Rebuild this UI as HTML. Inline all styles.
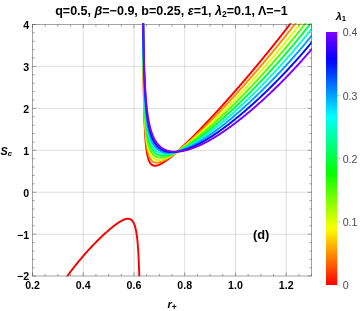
<!DOCTYPE html>
<html><head><meta charset="utf-8"><title>plot</title>
<style>
html,body{margin:0;padding:0;background:#fff;}
body{width:363px;height:311px;overflow:hidden;font-family:"Liberation Sans",sans-serif;}
svg{display:block;will-change:transform;opacity:0.999;}
text{font-family:"Liberation Sans",sans-serif;}
</style></head><body>
<svg width="363" height="311" viewBox="0 0 363 311">
<defs><clipPath id="cp"><rect x="32" y="23.2" width="279.9" height="253"/></clipPath><linearGradient id="cb" x1="0" y1="0" x2="0" y2="1"><stop offset="0.0000" stop-color="#8000ff"/><stop offset="0.0208" stop-color="#6800ff"/><stop offset="0.0417" stop-color="#5000ff"/><stop offset="0.0625" stop-color="#3800ff"/><stop offset="0.0833" stop-color="#2000ff"/><stop offset="0.1042" stop-color="#0800ff"/><stop offset="0.1250" stop-color="#0010ff"/><stop offset="0.1458" stop-color="#0028ff"/><stop offset="0.1667" stop-color="#0040ff"/><stop offset="0.1875" stop-color="#0058ff"/><stop offset="0.2083" stop-color="#0070ff"/><stop offset="0.2292" stop-color="#0087ff"/><stop offset="0.2500" stop-color="#009fff"/><stop offset="0.2708" stop-color="#00b7ff"/><stop offset="0.2917" stop-color="#00cfff"/><stop offset="0.3125" stop-color="#00e7ff"/><stop offset="0.3333" stop-color="#00ffff"/><stop offset="0.3542" stop-color="#00ffe7"/><stop offset="0.3750" stop-color="#00ffcf"/><stop offset="0.3958" stop-color="#00ffb7"/><stop offset="0.4167" stop-color="#00ff9f"/><stop offset="0.4375" stop-color="#00ff87"/><stop offset="0.4583" stop-color="#00ff70"/><stop offset="0.4792" stop-color="#00ff58"/><stop offset="0.5000" stop-color="#00ff40"/><stop offset="0.5208" stop-color="#00ff28"/><stop offset="0.5417" stop-color="#00ff10"/><stop offset="0.5625" stop-color="#08ff00"/><stop offset="0.5833" stop-color="#20ff00"/><stop offset="0.6042" stop-color="#38ff00"/><stop offset="0.6250" stop-color="#50ff00"/><stop offset="0.6458" stop-color="#68ff00"/><stop offset="0.6667" stop-color="#80ff00"/><stop offset="0.6875" stop-color="#97ff00"/><stop offset="0.7083" stop-color="#afff00"/><stop offset="0.7292" stop-color="#c7ff00"/><stop offset="0.7500" stop-color="#dfff00"/><stop offset="0.7708" stop-color="#f7ff00"/><stop offset="0.7917" stop-color="#ffef00"/><stop offset="0.8125" stop-color="#ffd700"/><stop offset="0.8333" stop-color="#ffbf00"/><stop offset="0.8542" stop-color="#ffa700"/><stop offset="0.8750" stop-color="#ff8f00"/><stop offset="0.8958" stop-color="#ff7800"/><stop offset="0.9167" stop-color="#ff6000"/><stop offset="0.9375" stop-color="#ff4800"/><stop offset="0.9583" stop-color="#ff3000"/><stop offset="0.9792" stop-color="#ff1800"/><stop offset="1.0000" stop-color="#ff0000"/></linearGradient></defs>
<rect width="363" height="311" fill="#fff"/>
<g stroke="#000" stroke-opacity="0.135" stroke-width="1" fill="none"><line x1="83.24" x2="83.24" y1="24.50" y2="276.00"/><line x1="133.98" x2="133.98" y1="24.50" y2="276.00"/><line x1="184.72" x2="184.72" y1="24.50" y2="276.00"/><line x1="235.46" x2="235.46" y1="24.50" y2="276.00"/><line x1="286.20" x2="286.20" y1="24.50" y2="276.00"/><line x1="32.50" x2="311.50" y1="234.20" y2="234.20"/><line x1="32.50" x2="311.50" y1="192.25" y2="192.25"/><line x1="32.50" x2="311.50" y1="150.30" y2="150.30"/><line x1="32.50" x2="311.50" y1="108.35" y2="108.35"/><line x1="32.50" x2="311.50" y1="66.40" y2="66.40"/></g>
<g fill="none" stroke-width="1.95" stroke-linejoin="round" stroke-linecap="round" clip-path="url(#cp)">
<path d="M139.34 278.96 L139.32 278.21 L139.30 277.47 L139.28 276.74 L139.26 276.02 L139.24 275.31 L139.22 274.60 L139.20 273.77 L139.18 272.95 L139.15 272.14 L139.13 271.34 L139.10 270.55 L139.08 269.78 L139.05 269.01 L139.02 268.26 L139.00 267.52 L138.97 266.79 L138.95 266.07 L138.92 265.36 L138.89 264.66 L138.86 263.85 L138.83 263.06 L138.80 262.28 L138.77 261.52 L138.74 260.77 L138.70 260.03 L138.67 259.30 L138.64 258.58 L138.61 257.88 L138.57 257.09 L138.53 256.31 L138.49 255.55 L138.45 254.81 L138.41 254.07 L138.37 253.35 L138.33 252.64 L138.28 251.86 L138.24 251.10 L138.19 250.35 L138.14 249.62 L138.10 248.90 L138.05 248.20 L137.99 247.44 L137.94 246.69 L137.89 245.96 L137.83 245.25 L137.77 244.48 L137.70 243.73 L137.64 243.00 L137.58 242.29 L137.51 241.53 L137.44 240.80 L137.36 240.08 L137.29 239.39 L137.21 238.65 L137.13 237.94 L137.04 237.19 L136.95 236.47 L136.86 235.77 L136.76 235.05 L136.66 234.35 L136.55 233.63 L136.44 232.93 L136.32 232.22 L136.19 231.50 L136.06 230.80 L135.92 230.10 L135.77 229.39 L135.61 228.68 L135.44 227.98 L135.25 227.28 L135.06 226.59 L134.85 225.91 L134.62 225.23 L134.38 224.56 L134.12 223.91 L133.82 223.26 L133.51 222.63 L133.15 222.01 L132.75 221.41 L132.31 220.85 L131.82 220.33 L131.29 219.87 L130.69 219.48 L130.05 219.17 L129.38 218.95 L128.69 218.83 L127.99 218.78 L127.29 218.81 L126.59 218.90 L125.90 219.04 L125.22 219.23 L124.56 219.45 L123.89 219.70 L123.24 219.98 L122.60 220.27 L121.97 220.59 L121.34 220.93 L120.72 221.28 L120.10 221.64 L119.49 222.01 L118.88 222.40 L118.29 222.78 L117.70 223.18 L117.11 223.59 L116.52 224.00 L115.95 224.42 L115.36 224.85 L114.79 225.27 L114.23 225.70 L113.67 226.14 L113.10 226.59 L112.54 227.03 L111.97 227.49 L111.42 227.93 L110.86 228.39 L110.32 228.84 L109.78 229.30 L109.23 229.77 L108.69 230.23 L108.15 230.70 L107.60 231.18 L107.08 231.64 L106.54 232.12 L106.01 232.60 L105.46 233.09 L104.94 233.56 L104.41 234.05 L103.88 234.54 L103.34 235.04 L102.83 235.52 L102.30 236.01 L101.78 236.51 L101.25 237.01 L100.74 237.50 L100.23 237.99 L99.72 238.49 L99.20 238.99 L98.68 239.51 L98.15 240.03 L97.65 240.53 L97.14 241.03 L96.63 241.54 L96.12 242.06 L95.60 242.59 L95.11 243.09 L94.61 243.60 L94.11 244.11 L93.61 244.63 L93.11 245.16 L92.60 245.69 L92.09 246.23 L91.60 246.74 L91.12 247.26 L90.63 247.78 L90.13 248.31 L89.64 248.84 L89.14 249.39 L88.64 249.93 L88.16 250.45 L87.69 250.97 L87.21 251.50 L86.73 252.04 L86.25 252.58 L85.76 253.12 L85.27 253.68 L84.78 254.23 L84.29 254.80 L83.83 255.33 L83.36 255.86 L82.90 256.40 L82.43 256.95 L81.95 257.50 L81.48 258.06 L81.00 258.62 L80.52 259.19 L80.04 259.77 L79.56 260.35 L79.11 260.89 L78.66 261.44 L78.20 261.99 L77.75 262.55 L77.29 263.11 L76.83 263.68 L76.37 264.25 L75.90 264.83 L75.44 265.42 L74.97 266.01 L74.49 266.61 L74.06 267.16 L73.63 267.72 L73.19 268.29 L72.75 268.86 L72.31 269.43 L71.86 270.01 L71.42 270.60 L70.97 271.19 L70.52 271.78 L70.07 272.38 L69.62 272.99 L69.16 273.61 L68.71 274.23 L68.29 274.79 L67.87 275.37 L67.45 275.95 L67.03 276.53 L66.61 277.12 L66.18 277.71 L65.75 278.31 L65.33 278.92 L65.28 278.98" stroke="#ff0000"/>
<path d="M143.11 21.83 L143.12 22.72 L143.12 23.61 L143.13 24.48 L143.13 25.36 L143.14 26.22 L143.14 27.08 L143.15 27.94 L143.15 28.79 L143.16 29.63 L143.16 30.47 L143.17 31.30 L143.17 32.12 L143.18 32.94 L143.19 33.76 L143.19 34.57 L143.20 35.37 L143.20 36.17 L143.21 36.96 L143.21 37.75 L143.22 38.53 L143.22 39.31 L143.23 40.08 L143.23 40.84 L143.24 41.61 L143.24 42.36 L143.25 43.11 L143.26 43.86 L143.26 44.60 L143.27 45.33 L143.27 46.06 L143.28 46.79 L143.28 47.51 L143.29 48.23 L143.29 48.94 L143.30 49.65 L143.31 50.35 L143.31 51.39 L143.32 52.43 L143.33 53.45 L143.34 54.47 L143.35 55.47 L143.36 56.46 L143.37 57.45 L143.38 58.42 L143.38 59.39 L143.39 60.34 L143.40 61.29 L143.41 62.23 L143.42 63.15 L143.43 64.07 L143.44 64.98 L143.45 65.89 L143.46 66.78 L143.47 67.66 L143.48 68.54 L143.49 69.41 L143.50 70.27 L143.51 71.12 L143.51 71.96 L143.52 72.79 L143.53 73.62 L143.54 74.44 L143.55 75.25 L143.56 76.06 L143.57 76.85 L143.58 77.64 L143.59 78.42 L143.60 79.20 L143.61 79.96 L143.62 80.72 L143.63 81.47 L143.64 82.22 L143.65 82.96 L143.67 83.69 L143.68 84.41 L143.69 85.13 L143.70 85.84 L143.71 86.55 L143.72 87.48 L143.74 88.40 L143.75 89.31 L143.76 90.20 L143.78 91.09 L143.79 91.96 L143.81 92.83 L143.82 93.68 L143.84 94.52 L143.85 95.36 L143.87 96.18 L143.88 97.00 L143.90 97.80 L143.92 98.59 L143.93 99.38 L143.95 100.16 L143.96 100.92 L143.98 101.68 L143.99 102.43 L144.01 103.17 L144.03 103.90 L144.04 104.62 L144.06 105.34 L144.08 106.04 L144.10 106.91 L144.12 107.77 L144.14 108.62 L144.16 109.45 L144.18 110.27 L144.20 111.08 L144.22 111.88 L144.25 112.67 L144.27 113.44 L144.29 114.21 L144.31 114.96 L144.34 115.70 L144.36 116.44 L144.38 117.16 L144.40 117.87 L144.43 118.57 L144.46 119.40 L144.48 120.22 L144.51 121.02 L144.54 121.81 L144.57 122.58 L144.60 123.35 L144.63 124.10 L144.66 124.83 L144.69 125.56 L144.72 126.27 L144.75 126.98 L144.79 127.78 L144.82 128.57 L144.86 129.34 L144.90 130.10 L144.94 130.85 L144.97 131.58 L145.01 132.30 L145.05 133.00 L145.10 133.79 L145.14 134.56 L145.19 135.31 L145.23 136.05 L145.28 136.78 L145.33 137.48 L145.38 138.26 L145.43 139.02 L145.49 139.76 L145.54 140.49 L145.60 141.19 L145.66 141.96 L145.73 142.71 L145.79 143.43 L145.86 144.14 L145.93 144.90 L146.01 145.63 L146.08 146.35 L146.17 147.10 L146.25 147.83 L146.34 148.54 L146.43 149.29 L146.53 150.00 L146.62 150.70 L146.73 151.42 L146.84 152.11 L146.96 152.83 L147.09 153.56 L147.22 154.26 L147.36 154.97 L147.51 155.69 L147.67 156.38 L147.84 157.06 L148.02 157.75 L148.21 158.42 L148.43 159.12 L148.66 159.80 L148.91 160.45 L149.19 161.11 L149.50 161.75 L149.83 162.37 L150.21 162.98 L150.63 163.55 L151.10 164.08 L151.63 164.56 L152.20 164.96 L152.82 165.29 L153.48 165.52 L154.17 165.66 L154.88 165.72 L155.59 165.69 L156.30 165.60 L156.99 165.46 L157.67 165.27 L158.34 165.05 L159.01 164.79 L159.65 164.51 L160.29 164.21 L160.93 163.89 L161.56 163.55 L162.19 163.19 L162.80 162.83 L163.41 162.45 L164.00 162.07 L164.61 161.67 L165.20 161.27 L165.78 160.87 L166.37 160.45 L166.95 160.03 L167.53 159.60 L168.10 159.17 L168.68 158.73 L169.24 158.30 L169.81 157.85 L170.35 157.42 L170.91 156.97 L171.47 156.51 L172.02 156.07 L172.57 155.61 L173.12 155.14 L173.68 154.67 L174.22 154.21 L174.77 153.74 L175.32 153.26 L175.85 152.80 L176.39 152.33 L176.93 151.85 L177.47 151.37 L178.02 150.87 L178.55 150.40 L179.08 149.92 L179.62 149.43 L180.16 148.94 L180.70 148.44 L181.22 147.96 L181.75 147.47 L182.27 146.98 L182.81 146.48 L183.34 145.98 L183.89 145.47 L184.40 144.98 L184.91 144.49 L185.43 144.00 L185.96 143.50 L186.49 142.99 L187.02 142.47 L187.56 141.95 L188.06 141.46 L188.57 140.97 L189.08 140.47 L189.60 139.96 L190.12 139.45 L190.64 138.94 L191.17 138.42 L191.70 137.89 L192.24 137.36 L192.74 136.86 L193.24 136.36 L193.75 135.85 L194.26 135.34 L194.77 134.82 L195.28 134.30 L195.80 133.77 L196.33 133.24 L196.85 132.71 L197.38 132.17 L197.88 131.67 L198.37 131.16 L198.87 130.65 L199.37 130.14 L199.87 129.62 L200.38 129.09 L200.89 128.57 L201.40 128.04 L201.92 127.50 L202.44 126.96 L202.96 126.42 L203.48 125.87 L204.01 125.32 L204.49 124.81 L204.98 124.30 L205.47 123.78 L205.97 123.26 L206.46 122.74 L206.96 122.21 L207.46 121.68 L207.97 121.15 L208.47 120.61 L208.98 120.07 L209.49 119.52 L210.01 118.97 L210.52 118.42 L211.04 117.86 L211.56 117.30 L212.09 116.74 L212.57 116.22 L213.05 115.70 L213.53 115.18 L214.02 114.65 L214.50 114.13 L214.99 113.59 L215.49 113.06 L215.98 112.52 L216.48 111.98 L216.97 111.44 L217.48 110.89 L217.98 110.34 L218.48 109.78 L218.99 109.23 L219.50 108.67 L220.01 108.10 L220.53 107.54 L221.04 106.97 L221.56 106.39 L222.08 105.82 L222.55 105.29 L223.02 104.77 L223.50 104.24 L223.98 103.71 L224.45 103.18 L224.93 102.64 L225.41 102.11 L225.90 101.56 L226.38 101.02 L226.87 100.47 L227.36 99.93 L227.85 99.37 L228.34 98.82 L228.84 98.26 L229.33 97.70 L229.83 97.14 L230.33 96.57 L230.84 96.00 L231.34 95.43 L231.85 94.86 L232.35 94.28 L232.86 93.70 L233.38 93.12 L233.89 92.53 L234.40 91.94 L234.92 91.35 L235.38 90.82 L235.85 90.29 L236.31 89.76 L236.78 89.22 L237.24 88.68 L237.71 88.14 L238.18 87.60 L238.66 87.06 L239.13 86.51 L239.61 85.96 L240.08 85.41 L240.56 84.85 L241.04 84.30 L241.52 83.74 L242.01 83.18 L242.49 82.61 L242.98 82.05 L243.46 81.48 L243.95 80.91 L244.44 80.33 L244.94 79.76 L245.43 79.18 L245.93 78.60 L246.42 78.01 L246.92 77.43 L247.42 76.84 L247.92 76.25 L248.43 75.65 L248.93 75.06 L249.44 74.46 L249.95 73.86 L250.46 73.26 L250.97 72.65 L251.48 72.04 L251.99 71.43 L252.45 70.89 L252.90 70.35 L253.35 69.81 L253.81 69.27 L254.26 68.73 L254.72 68.18 L255.18 67.63 L255.64 67.08 L256.10 66.53 L256.57 65.97 L257.03 65.41 L257.49 64.85 L257.96 64.29 L258.43 63.73 L258.90 63.16 L259.37 62.60 L259.84 62.03 L260.31 61.46 L260.79 60.88 L261.26 60.31 L261.74 59.73 L262.21 59.15 L262.69 58.56 L263.17 57.98 L263.66 57.39 L264.14 56.81 L264.62 56.21 L265.11 55.62 L265.59 55.03 L266.08 54.43 L266.57 53.83 L267.06 53.23 L267.55 52.62 L268.05 52.02 L268.54 51.41 L269.04 50.80 L269.53 50.18 L270.03 49.57 L270.53 48.95 L271.03 48.33 L271.53 47.71 L272.04 47.08 L272.54 46.45 L273.05 45.82 L273.55 45.19 L274.06 44.56 L274.57 43.92 L275.01 43.37 L275.45 42.82 L275.89 42.27 L276.33 41.72 L276.77 41.16 L277.21 40.61 L277.66 40.05 L278.10 39.49 L278.55 38.92 L279.00 38.36 L279.44 37.79 L279.89 37.22 L280.34 36.65 L280.79 36.08 L281.24 35.51 L281.70 34.93 L282.15 34.36 L282.60 33.78 L283.06 33.19 L283.52 32.61 L283.97 32.03 L284.43 31.44 L284.89 30.85 L285.35 30.26 L285.81 29.66 L286.27 29.07 L286.74 28.47 L287.20 27.87 L287.67 27.27 L288.13 26.66 L288.60 26.06 L289.07 25.45 L289.54 24.84 L290.01 24.23 L290.48 23.61 L290.95 23.00 L291.43 22.38 L291.90 21.76 L292.06 21.55" stroke="#ff0000"/>
<path d="M143.09 21.61 L143.10 22.45 L143.11 23.28 L143.11 24.11 L143.12 24.93 L143.12 25.75 L143.13 26.56 L143.13 27.37 L143.14 28.17 L143.14 28.97 L143.15 29.76 L143.15 30.54 L143.16 31.32 L143.16 32.10 L143.17 32.87 L143.18 33.63 L143.18 34.39 L143.19 35.15 L143.19 35.89 L143.20 36.64 L143.20 37.38 L143.21 38.11 L143.22 38.84 L143.22 39.57 L143.23 40.29 L143.23 41.00 L143.24 41.71 L143.24 42.42 L143.25 43.12 L143.26 44.17 L143.27 45.20 L143.28 46.22 L143.29 47.24 L143.29 48.24 L143.30 49.24 L143.31 50.22 L143.32 51.19 L143.33 52.16 L143.34 53.12 L143.35 54.06 L143.36 55.00 L143.37 55.93 L143.38 56.85 L143.39 57.76 L143.40 58.67 L143.41 59.56 L143.42 60.45 L143.43 61.33 L143.43 62.20 L143.44 63.06 L143.45 63.91 L143.46 64.76 L143.47 65.59 L143.48 66.42 L143.49 67.24 L143.50 68.06 L143.51 68.87 L143.52 69.66 L143.53 70.46 L143.55 71.24 L143.56 72.02 L143.57 72.79 L143.58 73.55 L143.59 74.31 L143.60 75.06 L143.61 75.80 L143.62 76.54 L143.63 77.27 L143.64 77.99 L143.65 78.70 L143.66 79.41 L143.67 80.12 L143.69 81.05 L143.70 81.96 L143.72 82.87 L143.73 83.76 L143.75 84.65 L143.76 85.52 L143.78 86.38 L143.79 87.24 L143.81 88.08 L143.82 88.92 L143.84 89.74 L143.85 90.55 L143.87 91.36 L143.89 92.15 L143.90 92.94 L143.92 93.72 L143.93 94.48 L143.95 95.24 L143.97 95.99 L143.98 96.74 L144.00 97.47 L144.02 98.20 L144.03 98.91 L144.05 99.62 L144.07 100.32 L144.09 101.19 L144.11 102.04 L144.13 102.88 L144.15 103.71 L144.18 104.53 L144.20 105.33 L144.22 106.13 L144.24 106.91 L144.27 107.68 L144.29 108.45 L144.31 109.20 L144.34 109.94 L144.36 110.67 L144.38 111.39 L144.41 112.10 L144.43 112.81 L144.46 113.64 L144.49 114.45 L144.52 115.25 L144.55 116.04 L144.58 116.82 L144.61 117.59 L144.64 118.34 L144.67 119.08 L144.70 119.81 L144.73 120.53 L144.76 121.23 L144.80 122.04 L144.84 122.84 L144.88 123.62 L144.91 124.38 L144.95 125.13 L144.99 125.87 L145.03 126.60 L145.07 127.31 L145.11 128.01 L145.16 128.79 L145.20 129.56 L145.25 130.31 L145.30 131.05 L145.35 131.77 L145.40 132.48 L145.45 133.25 L145.51 134.01 L145.57 134.76 L145.62 135.48 L145.68 136.19 L145.75 136.96 L145.81 137.72 L145.88 138.45 L145.95 139.16 L146.02 139.93 L146.10 140.67 L146.18 141.40 L146.26 142.10 L146.34 142.85 L146.43 143.57 L146.52 144.27 L146.62 145.01 L146.72 145.73 L146.83 146.47 L146.94 147.19 L147.06 147.89 L147.18 148.60 L147.30 149.29 L147.44 150.00 L147.59 150.72 L147.74 151.41 L147.90 152.11 L148.08 152.82 L148.26 153.52 L148.47 154.23 L148.68 154.92 L148.91 155.61 L149.16 156.28 L149.42 156.93 L149.72 157.58 L150.04 158.23 L150.38 158.84 L150.76 159.43 L151.17 160.00 L151.64 160.54 L152.15 161.04 L152.70 161.49 L153.30 161.87 L153.94 162.18 L154.61 162.41 L155.30 162.57 L155.99 162.65 L156.70 162.67 L157.40 162.63 L158.10 162.55 L158.80 162.42 L159.50 162.25 L160.17 162.05 L160.85 161.83 L161.52 161.58 L162.18 161.31 L162.84 161.02 L163.49 160.71 L164.14 160.39 L164.77 160.07 L165.39 159.73 L166.02 159.38 L166.64 159.02 L167.24 158.66 L167.85 158.28 L168.45 157.91 L169.06 157.52 L169.65 157.13 L170.25 156.73 L170.83 156.33 L171.42 155.92 L172.02 155.50 L172.59 155.09 L173.18 154.67 L173.77 154.24 L174.34 153.81 L174.92 153.38 L175.50 152.94 L176.06 152.51 L176.63 152.07 L177.20 151.62 L177.78 151.16 L178.33 150.72 L178.89 150.28 L179.46 149.82 L180.03 149.35 L180.58 148.91 L181.13 148.45 L181.68 147.99 L182.24 147.52 L182.81 147.05 L183.34 146.59 L183.89 146.13 L184.43 145.66 L184.98 145.19 L185.54 144.71 L186.10 144.22 L186.63 143.76 L187.16 143.29 L187.70 142.82 L188.24 142.33 L188.79 141.85 L189.34 141.36 L189.90 140.86 L190.42 140.39 L190.94 139.91 L191.47 139.43 L192.01 138.94 L192.54 138.45 L193.08 137.95 L193.63 137.45 L194.18 136.94 L194.73 136.43 L195.25 135.95 L195.76 135.46 L196.29 134.97 L196.81 134.48 L197.34 133.98 L197.88 133.47 L198.41 132.96 L198.95 132.45 L199.50 131.93 L200.04 131.41 L200.55 130.92 L201.06 130.43 L201.57 129.93 L202.09 129.43 L202.61 128.93 L203.13 128.42 L203.66 127.90 L204.18 127.39 L204.72 126.87 L205.25 126.34 L205.79 125.81 L206.33 125.28 L206.83 124.78 L207.33 124.28 L207.83 123.78 L208.33 123.28 L208.84 122.77 L209.35 122.26 L209.87 121.74 L210.38 121.22 L210.90 120.70 L211.42 120.17 L211.94 119.64 L212.47 119.11 L213.00 118.57 L213.53 118.03 L214.07 117.48 L214.60 116.93 L215.09 116.43 L215.58 115.92 L216.08 115.41 L216.58 114.90 L217.07 114.38 L217.58 113.87 L218.08 113.34 L218.58 112.82 L219.09 112.29 L219.60 111.76 L220.11 111.22 L220.63 110.68 L221.15 110.14 L221.66 109.59 L222.19 109.05 L222.71 108.49 L223.24 107.94 L223.76 107.38 L224.29 106.82 L224.83 106.25 L225.31 105.74 L225.79 105.22 L226.28 104.71 L226.76 104.19 L227.25 103.66 L227.74 103.14 L228.23 102.61 L228.73 102.08 L229.22 101.54 L229.72 101.01 L230.22 100.47 L230.72 99.92 L231.23 99.38 L231.73 98.83 L232.24 98.28 L232.75 97.72 L233.26 97.17 L233.77 96.61 L234.29 96.04 L234.81 95.48 L235.33 94.91 L235.85 94.34 L236.37 93.76 L236.89 93.18 L237.42 92.60 L237.95 92.02 L238.42 91.50 L238.89 90.97 L239.37 90.45 L239.84 89.92 L240.32 89.39 L240.80 88.85 L241.28 88.32 L241.76 87.78 L242.25 87.24 L242.73 86.69 L243.22 86.15 L243.71 85.60 L244.20 85.05 L244.69 84.50 L245.18 83.94 L245.68 83.38 L246.17 82.82 L246.67 82.26 L247.17 81.70 L247.67 81.13 L248.17 80.56 L248.68 79.98 L249.18 79.41 L249.69 78.83 L250.20 78.25 L250.71 77.67 L251.22 77.08 L251.74 76.49 L252.25 75.90 L252.77 75.31 L253.29 74.71 L253.81 74.11 L254.33 73.51 L254.85 72.91 L255.31 72.37 L255.77 71.84 L256.23 71.31 L256.70 70.77 L257.16 70.23 L257.63 69.69 L258.09 69.15 L258.56 68.60 L259.03 68.05 L259.50 67.50 L259.97 66.95 L260.45 66.40 L260.92 65.84 L261.40 65.28 L261.87 64.72 L262.35 64.16 L262.83 63.60 L263.31 63.03 L263.79 62.46 L264.28 61.89 L264.76 61.32 L265.25 60.74 L265.73 60.16 L266.22 59.58 L266.71 59.00 L267.20 58.42 L267.69 57.83 L268.19 57.24 L268.68 56.65 L269.18 56.06 L269.68 55.46 L270.17 54.86 L270.67 54.26 L271.17 53.66 L271.68 53.05 L272.18 52.44 L272.69 51.83 L273.19 51.22 L273.70 50.61 L274.21 49.99 L274.72 49.37 L275.23 48.75 L275.74 48.12 L276.26 47.50 L276.77 46.87 L277.29 46.23 L277.73 45.69 L278.18 45.14 L278.62 44.60 L279.07 44.05 L279.52 43.50 L279.97 42.94 L280.42 42.39 L280.87 41.83 L281.32 41.27 L281.77 40.71 L282.23 40.15 L282.68 39.58 L283.14 39.02 L283.59 38.45 L284.05 37.88 L284.51 37.30 L284.97 36.73 L285.43 36.15 L285.89 35.57 L286.35 34.99 L286.82 34.41 L287.28 33.82 L287.75 33.24 L288.21 32.65 L288.68 32.06 L289.15 31.46 L289.62 30.87 L290.09 30.27 L290.56 29.67 L291.03 29.07 L291.50 28.46 L291.98 27.85 L292.45 27.25 L292.93 26.63 L293.41 26.02 L293.89 25.41 L294.37 24.79 L294.85 24.17 L295.33 23.54 L295.81 22.92 L296.29 22.29 L296.78 21.66 L296.86 21.56" stroke="#ff8f00"/>
<path d="M143.09 21.79 L143.09 22.58 L143.10 23.36 L143.10 24.14 L143.11 24.91 L143.11 25.68 L143.12 26.44 L143.12 27.20 L143.13 27.95 L143.14 28.70 L143.14 29.45 L143.15 30.18 L143.15 30.92 L143.16 31.65 L143.17 32.37 L143.17 33.09 L143.18 33.81 L143.18 34.52 L143.19 35.22 L143.20 35.92 L143.20 36.97 L143.21 38.00 L143.22 39.02 L143.23 40.04 L143.24 41.04 L143.25 42.04 L143.26 43.02 L143.27 44.00 L143.28 44.96 L143.29 45.92 L143.30 46.87 L143.31 47.81 L143.32 48.74 L143.33 49.66 L143.34 50.57 L143.35 51.48 L143.35 52.37 L143.36 53.26 L143.37 54.14 L143.38 55.01 L143.39 55.88 L143.40 56.73 L143.41 57.58 L143.42 58.42 L143.43 59.26 L143.45 60.08 L143.46 60.90 L143.47 61.71 L143.48 62.51 L143.49 63.31 L143.50 64.09 L143.51 64.87 L143.52 65.65 L143.53 66.42 L143.54 67.18 L143.55 67.93 L143.56 68.68 L143.57 69.42 L143.58 70.15 L143.59 70.88 L143.61 71.60 L143.62 72.31 L143.63 73.02 L143.64 73.72 L143.65 74.65 L143.67 75.56 L143.68 76.47 L143.70 77.36 L143.71 78.24 L143.73 79.12 L143.75 79.98 L143.76 80.83 L143.78 81.68 L143.79 82.51 L143.81 83.34 L143.83 84.15 L143.84 84.96 L143.86 85.75 L143.87 86.54 L143.89 87.32 L143.91 88.09 L143.92 88.85 L143.94 89.61 L143.96 90.35 L143.97 91.09 L143.99 91.81 L144.01 92.53 L144.03 93.25 L144.04 93.95 L144.07 94.82 L144.09 95.68 L144.11 96.52 L144.13 97.36 L144.16 98.18 L144.18 98.99 L144.20 99.79 L144.22 100.58 L144.25 101.36 L144.27 102.13 L144.29 102.89 L144.32 103.64 L144.34 104.38 L144.37 105.10 L144.39 105.82 L144.42 106.53 L144.44 107.23 L144.47 108.06 L144.50 108.88 L144.53 109.68 L144.56 110.47 L144.59 111.25 L144.62 112.01 L144.65 112.77 L144.69 113.51 L144.72 114.24 L144.75 114.96 L144.78 115.67 L144.82 116.48 L144.86 117.28 L144.90 118.07 L144.94 118.84 L144.98 119.59 L145.02 120.34 L145.06 121.07 L145.10 121.79 L145.14 122.50 L145.19 123.29 L145.24 124.06 L145.28 124.83 L145.33 125.57 L145.38 126.30 L145.43 127.02 L145.48 127.73 L145.54 128.50 L145.60 129.26 L145.66 130.00 L145.72 130.73 L145.78 131.44 L145.85 132.21 L145.92 132.96 L145.98 133.70 L146.06 134.42 L146.13 135.12 L146.21 135.87 L146.29 136.61 L146.37 137.32 L146.45 138.02 L146.54 138.76 L146.63 139.48 L146.73 140.17 L146.83 140.91 L146.94 141.62 L147.05 142.37 L147.17 143.09 L147.28 143.78 L147.41 144.51 L147.54 145.20 L147.69 145.92 L147.83 146.61 L147.99 147.31 L148.15 148.03 L148.33 148.72 L148.51 149.41 L148.71 150.11 L148.92 150.80 L149.15 151.50 L149.39 152.18 L149.65 152.85 L149.93 153.51 L150.23 154.16 L150.56 154.80 L150.90 155.42 L151.29 156.02 L151.69 156.60 L152.14 157.15 L152.62 157.67 L153.15 158.15 L153.72 158.58 L154.31 158.96 L154.94 159.28 L155.60 159.53 L156.27 159.73 L156.97 159.86 L157.67 159.94 L158.37 159.97 L159.08 159.95 L159.78 159.89 L160.49 159.79 L161.19 159.66 L161.89 159.49 L162.58 159.31 L163.27 159.10 L163.96 158.87 L164.63 158.62 L165.29 158.36 L165.95 158.08 L166.59 157.80 L167.24 157.50 L167.88 157.19 L168.53 156.87 L169.16 156.54 L169.78 156.21 L170.41 155.87 L171.02 155.52 L171.64 155.16 L172.26 154.79 L172.87 154.43 L173.49 154.05 L174.08 153.68 L174.68 153.29 L175.29 152.90 L175.88 152.51 L176.48 152.12 L177.08 151.71 L177.69 151.30 L178.27 150.89 L178.86 150.48 L179.46 150.06 L180.03 149.65 L180.61 149.23 L181.19 148.81 L181.78 148.37 L182.37 147.93 L182.94 147.51 L183.51 147.08 L184.09 146.64 L184.67 146.19 L185.26 145.74 L185.82 145.30 L186.38 144.86 L186.95 144.41 L187.52 143.96 L188.10 143.50 L188.68 143.03 L189.23 142.58 L189.78 142.13 L190.34 141.68 L190.91 141.21 L191.47 140.74 L192.04 140.27 L192.58 139.82 L193.12 139.36 L193.67 138.90 L194.22 138.44 L194.77 137.97 L195.32 137.49 L195.89 137.01 L196.45 136.52 L197.02 136.03 L197.55 135.57 L198.08 135.10 L198.62 134.63 L199.16 134.15 L199.71 133.67 L200.25 133.18 L200.80 132.69 L201.36 132.19 L201.92 131.69 L202.48 131.19 L203.00 130.72 L203.53 130.24 L204.05 129.76 L204.58 129.27 L205.12 128.79 L205.65 128.29 L206.19 127.79 L206.73 127.29 L207.28 126.79 L207.83 126.27 L208.38 125.76 L208.94 125.24 L209.45 124.76 L209.96 124.28 L210.48 123.79 L210.99 123.30 L211.52 122.80 L212.04 122.30 L212.57 121.80 L213.10 121.29 L213.63 120.78 L214.16 120.27 L214.70 119.75 L215.24 119.23 L215.78 118.70 L216.33 118.17 L216.87 117.64 L217.43 117.10 L217.93 116.61 L218.43 116.11 L218.94 115.61 L219.45 115.11 L219.96 114.60 L220.47 114.09 L220.99 113.58 L221.51 113.07 L222.03 112.55 L222.55 112.02 L223.08 111.50 L223.60 110.97 L224.13 110.44 L224.67 109.90 L225.20 109.36 L225.74 108.82 L226.28 108.27 L226.82 107.72 L227.36 107.17 L227.85 106.67 L228.34 106.16 L228.84 105.66 L229.33 105.15 L229.83 104.64 L230.33 104.12 L230.84 103.60 L231.34 103.08 L231.85 102.56 L232.35 102.03 L232.86 101.50 L233.38 100.97 L233.89 100.43 L234.40 99.89 L234.92 99.35 L235.44 98.81 L235.96 98.26 L236.49 97.71 L237.01 97.15 L237.54 96.60 L238.07 96.04 L238.60 95.48 L239.13 94.91 L239.67 94.34 L240.20 93.77 L240.68 93.26 L241.16 92.75 L241.64 92.23 L242.13 91.71 L242.61 91.19 L243.10 90.67 L243.59 90.14 L244.08 89.61 L244.57 89.08 L245.06 88.55 L245.55 88.02 L246.05 87.48 L246.55 86.94 L247.05 86.39 L247.55 85.85 L248.05 85.30 L248.55 84.75 L249.06 84.20 L249.56 83.64 L250.07 83.08 L250.58 82.52 L251.10 81.96 L251.61 81.39 L252.12 80.82 L252.64 80.25 L253.16 79.67 L253.68 79.10 L254.20 78.52 L254.72 77.94 L255.25 77.35 L255.77 76.76 L256.30 76.17 L256.83 75.58 L257.36 74.98 L257.83 74.46 L258.29 73.94 L258.76 73.41 L259.23 72.88 L259.70 72.35 L260.18 71.81 L260.65 71.27 L261.12 70.74 L261.60 70.20 L262.08 69.65 L262.56 69.11 L263.04 68.56 L263.52 68.01 L264.00 67.46 L264.48 66.91 L264.97 66.35 L265.46 65.79 L265.94 65.23 L266.43 64.67 L266.92 64.10 L267.41 63.54 L267.91 62.97 L268.40 62.39 L268.89 61.82 L269.39 61.24 L269.89 60.66 L270.39 60.08 L270.89 59.50 L271.39 58.91 L271.89 58.32 L272.40 57.73 L272.90 57.14 L273.41 56.54 L273.92 55.95 L274.43 55.35 L274.94 54.74 L275.45 54.14 L275.96 53.53 L276.48 52.92 L276.99 52.31 L277.51 51.69 L278.03 51.07 L278.55 50.45 L279.07 49.83 L279.59 49.20 L280.04 48.67 L280.49 48.13 L280.94 47.58 L281.39 47.04 L281.85 46.49 L282.30 45.94 L282.76 45.39 L283.21 44.84 L283.67 44.29 L284.13 43.73 L284.58 43.17 L285.04 42.61 L285.50 42.05 L285.97 41.49 L286.43 40.92 L286.89 40.35 L287.36 39.78 L287.82 39.21 L288.29 38.63 L288.76 38.06 L289.23 37.48 L289.70 36.90 L290.17 36.31 L290.64 35.73 L291.11 35.14 L291.58 34.55 L292.06 33.96 L292.53 33.36 L293.01 32.77 L293.49 32.17 L293.97 31.57 L294.45 30.96 L294.93 30.36 L295.41 29.75 L295.89 29.14 L296.37 28.52 L296.86 27.91 L297.34 27.29 L297.83 26.67 L298.32 26.05 L298.81 25.42 L299.30 24.79 L299.79 24.16 L300.28 23.53 L300.77 22.89 L301.27 22.26 L301.76 21.62 L301.84 21.51" stroke="#dfff00"/>
<path d="M143.08 21.54 L143.09 22.28 L143.09 23.02 L143.10 23.75 L143.10 24.48 L143.11 25.20 L143.12 25.92 L143.12 26.63 L143.13 27.34 L143.13 28.05 L143.14 28.75 L143.15 29.79 L143.16 30.83 L143.17 31.85 L143.18 32.86 L143.19 33.87 L143.20 34.86 L143.21 35.85 L143.22 36.82 L143.23 37.79 L143.24 38.75 L143.24 39.70 L143.25 40.64 L143.26 41.57 L143.27 42.50 L143.28 43.41 L143.29 44.32 L143.30 45.22 L143.31 46.11 L143.32 46.99 L143.33 47.86 L143.34 48.73 L143.36 49.59 L143.37 50.44 L143.38 51.28 L143.39 52.12 L143.40 52.95 L143.41 53.77 L143.42 54.58 L143.43 55.39 L143.44 56.19 L143.45 56.98 L143.46 57.76 L143.47 58.54 L143.48 59.31 L143.49 60.08 L143.50 60.83 L143.52 61.58 L143.53 62.33 L143.54 63.07 L143.55 63.80 L143.56 64.52 L143.57 65.24 L143.58 65.96 L143.59 66.66 L143.61 67.36 L143.62 68.29 L143.64 69.20 L143.65 70.10 L143.67 71.00 L143.68 71.88 L143.70 72.75 L143.72 73.62 L143.73 74.47 L143.75 75.32 L143.76 76.15 L143.78 76.98 L143.80 77.79 L143.81 78.60 L143.83 79.40 L143.85 80.19 L143.86 80.97 L143.88 81.74 L143.90 82.50 L143.92 83.26 L143.93 84.01 L143.95 84.75 L143.97 85.48 L143.99 86.20 L144.00 86.92 L144.02 87.62 L144.04 88.32 L144.06 89.19 L144.09 90.04 L144.11 90.88 L144.13 91.71 L144.15 92.53 L144.18 93.34 L144.20 94.14 L144.23 94.93 L144.25 95.71 L144.27 96.48 L144.30 97.23 L144.32 97.98 L144.35 98.72 L144.37 99.45 L144.40 100.17 L144.42 100.88 L144.45 101.58 L144.48 102.41 L144.51 103.23 L144.54 104.03 L144.57 104.82 L144.60 105.61 L144.64 106.38 L144.67 107.13 L144.70 107.88 L144.73 108.61 L144.77 109.34 L144.80 110.05 L144.83 110.76 L144.87 111.56 L144.91 112.36 L144.95 113.14 L144.99 113.91 L145.04 114.66 L145.08 115.40 L145.12 116.13 L145.16 116.85 L145.20 117.55 L145.25 118.35 L145.30 119.12 L145.35 119.89 L145.40 120.63 L145.45 121.37 L145.51 122.09 L145.56 122.80 L145.62 123.58 L145.68 124.34 L145.74 125.09 L145.80 125.82 L145.86 126.54 L145.93 127.24 L146.00 128.01 L146.07 128.76 L146.14 129.49 L146.21 130.20 L146.29 130.90 L146.37 131.65 L146.45 132.38 L146.54 133.10 L146.62 133.79 L146.72 134.54 L146.81 135.26 L146.91 135.96 L147.02 136.70 L147.13 137.42 L147.24 138.12 L147.36 138.86 L147.48 139.56 L147.61 140.30 L147.75 141.01 L147.89 141.71 L148.04 142.42 L148.19 143.10 L148.35 143.81 L148.53 144.53 L148.71 145.22 L148.90 145.92 L149.11 146.62 L149.32 147.30 L149.55 147.97 L149.79 148.65 L150.05 149.32 L150.33 149.98 L150.62 150.63 L150.94 151.27 L151.27 151.89 L151.63 152.50 L152.02 153.10 L152.44 153.67 L152.88 154.22 L153.36 154.74 L153.87 155.23 L154.41 155.68 L154.98 156.09 L155.59 156.46 L156.23 156.77 L156.89 157.04 L157.57 157.25 L158.26 157.41 L158.96 157.53 L159.66 157.60 L160.37 157.62 L161.07 157.61 L161.78 157.57 L162.50 157.49 L163.21 157.39 L163.91 157.26 L164.61 157.10 L165.29 156.93 L165.97 156.74 L166.66 156.53 L167.34 156.31 L168.00 156.07 L168.68 155.82 L169.34 155.56 L169.99 155.29 L170.64 155.01 L171.28 154.72 L171.93 154.42 L172.57 154.11 L173.20 153.80 L173.85 153.47 L174.48 153.14 L175.12 152.80 L175.73 152.47 L176.36 152.12 L176.99 151.76 L177.60 151.41 L178.21 151.05 L178.83 150.68 L179.46 150.30 L180.06 149.93 L180.67 149.55 L181.29 149.16 L181.88 148.78 L182.47 148.39 L183.07 148.00 L183.68 147.59 L184.30 147.18 L184.88 146.78 L185.47 146.38 L186.06 145.97 L186.66 145.55 L187.27 145.12 L187.85 144.71 L188.43 144.30 L189.01 143.87 L189.60 143.44 L190.19 143.01 L190.79 142.56 L191.36 142.14 L191.93 141.71 L192.50 141.28 L193.08 140.84 L193.67 140.39 L194.26 139.94 L194.85 139.48 L195.40 139.05 L195.97 138.61 L196.53 138.16 L197.10 137.71 L197.67 137.25 L198.25 136.79 L198.83 136.32 L199.41 135.85 L199.96 135.40 L200.51 134.95 L201.06 134.50 L201.62 134.04 L202.18 133.57 L202.74 133.10 L203.31 132.63 L203.88 132.15 L204.45 131.66 L205.03 131.17 L205.56 130.72 L206.10 130.26 L206.64 129.79 L207.19 129.32 L207.74 128.85 L208.29 128.37 L208.84 127.88 L209.40 127.40 L209.96 126.90 L210.52 126.41 L211.09 125.90 L211.66 125.40 L212.18 124.93 L212.71 124.46 L213.24 123.98 L213.77 123.50 L214.31 123.02 L214.85 122.53 L215.39 122.04 L215.93 121.55 L216.48 121.05 L217.02 120.54 L217.58 120.04 L218.13 119.53 L218.69 119.01 L219.25 118.49 L219.81 117.97 L220.32 117.49 L220.84 117.01 L221.35 116.52 L221.87 116.03 L222.40 115.54 L222.92 115.04 L223.45 114.54 L223.98 114.04 L224.51 113.53 L225.04 113.02 L225.58 112.51 L226.11 111.99 L226.65 111.47 L227.20 110.95 L227.74 110.42 L228.29 109.89 L228.84 109.36 L229.39 108.82 L229.94 108.28 L230.44 107.79 L230.95 107.29 L231.45 106.80 L231.96 106.30 L232.47 105.79 L232.98 105.29 L233.49 104.78 L234.00 104.27 L234.52 103.75 L235.04 103.24 L235.56 102.72 L236.08 102.19 L236.60 101.67 L237.13 101.14 L237.65 100.61 L238.18 100.07 L238.72 99.53 L239.25 98.99 L239.78 98.45 L240.32 97.90 L240.86 97.35 L241.40 96.79 L241.94 96.24 L242.49 95.68 L243.04 95.11 L243.52 94.61 L244.01 94.10 L244.50 93.60 L245.00 93.08 L245.49 92.57 L245.99 92.06 L246.48 91.54 L246.98 91.02 L247.48 90.49 L247.99 89.97 L248.49 89.44 L248.99 88.91 L249.50 88.37 L250.01 87.83 L250.52 87.30 L251.03 86.75 L251.54 86.21 L252.06 85.66 L252.58 85.11 L253.09 84.56 L253.61 84.00 L254.13 83.45 L254.66 82.89 L255.18 82.32 L255.71 81.76 L256.23 81.19 L256.76 80.62 L257.30 80.04 L257.83 79.46 L258.36 78.88 L258.90 78.30 L259.43 77.72 L259.97 77.13 L260.45 76.61 L260.92 76.09 L261.40 75.57 L261.87 75.05 L262.35 74.52 L262.83 73.99 L263.31 73.46 L263.79 72.93 L264.28 72.40 L264.76 71.86 L265.25 71.32 L265.73 70.78 L266.22 70.24 L266.71 69.69 L267.20 69.14 L267.69 68.59 L268.19 68.04 L268.68 67.48 L269.18 66.93 L269.68 66.37 L270.17 65.80 L270.67 65.24 L271.17 64.67 L271.68 64.10 L272.18 63.53 L272.69 62.96 L273.19 62.38 L273.70 61.80 L274.21 61.22 L274.72 60.63 L275.23 60.05 L275.74 59.46 L276.26 58.87 L276.77 58.27 L277.29 57.68 L277.81 57.08 L278.33 56.48 L278.85 55.87 L279.37 55.27 L279.89 54.66 L280.42 54.04 L280.94 53.43 L281.47 52.81 L282.00 52.19 L282.45 51.66 L282.91 51.12 L283.36 50.58 L283.82 50.04 L284.28 49.50 L284.74 48.96 L285.20 48.41 L285.66 47.86 L286.12 47.31 L286.58 46.76 L287.05 46.21 L287.51 45.65 L287.98 45.09 L288.45 44.53 L288.91 43.97 L289.38 43.41 L289.85 42.84 L290.32 42.27 L290.80 41.70 L291.27 41.12 L291.74 40.55 L292.22 39.97 L292.69 39.39 L293.17 38.81 L293.65 38.22 L294.13 37.63 L294.61 37.04 L295.09 36.45 L295.57 35.86 L296.05 35.26 L296.54 34.66 L297.02 34.06 L297.51 33.46 L297.99 32.85 L298.48 32.24 L298.97 31.63 L299.46 31.01 L299.95 30.40 L300.44 29.78 L300.94 29.16 L301.43 28.53 L301.93 27.90 L302.42 27.27 L302.92 26.64 L303.42 26.01 L303.92 25.37 L304.42 24.73 L304.92 24.09 L305.42 23.44 L305.92 22.79 L306.43 22.14 L306.85 21.59" stroke="#50ff00"/>
<path d="M143.09 21.60 L143.10 22.65 L143.11 23.68 L143.12 24.70 L143.13 25.72 L143.13 26.72 L143.14 27.72 L143.15 28.71 L143.16 29.68 L143.17 30.65 L143.18 31.61 L143.19 32.56 L143.20 33.50 L143.21 34.44 L143.22 35.36 L143.23 36.28 L143.24 37.19 L143.25 38.09 L143.26 38.98 L143.28 39.87 L143.29 40.74 L143.30 41.61 L143.31 42.48 L143.32 43.33 L143.33 44.18 L143.34 45.01 L143.35 45.85 L143.36 46.67 L143.37 47.49 L143.38 48.30 L143.39 49.10 L143.40 49.89 L143.41 50.68 L143.43 51.46 L143.44 52.24 L143.45 53.01 L143.46 53.77 L143.47 54.53 L143.48 55.27 L143.49 56.02 L143.50 56.75 L143.52 57.48 L143.53 58.21 L143.54 58.92 L143.55 59.64 L143.56 60.34 L143.58 61.27 L143.59 62.19 L143.61 63.10 L143.63 64.00 L143.64 64.90 L143.66 65.78 L143.68 66.65 L143.69 67.51 L143.71 68.36 L143.72 69.20 L143.74 70.04 L143.76 70.86 L143.78 71.68 L143.79 72.48 L143.81 73.28 L143.83 74.07 L143.84 74.85 L143.86 75.63 L143.88 76.39 L143.90 77.15 L143.91 77.89 L143.93 78.64 L143.95 79.37 L143.97 80.09 L143.99 80.81 L144.01 81.52 L144.02 82.22 L144.05 83.09 L144.07 83.95 L144.09 84.79 L144.12 85.63 L144.14 86.45 L144.17 87.26 L144.19 88.07 L144.21 88.86 L144.24 89.64 L144.26 90.42 L144.29 91.18 L144.31 91.93 L144.34 92.68 L144.36 93.41 L144.39 94.14 L144.42 94.86 L144.44 95.56 L144.47 96.40 L144.51 97.23 L144.54 98.04 L144.57 98.84 L144.60 99.63 L144.63 100.41 L144.67 101.18 L144.70 101.94 L144.73 102.68 L144.77 103.42 L144.80 104.14 L144.84 104.86 L144.87 105.56 L144.91 106.37 L144.95 107.17 L145.00 107.95 L145.04 108.72 L145.08 109.48 L145.12 110.22 L145.17 110.96 L145.21 111.68 L145.25 112.39 L145.30 113.09 L145.35 113.88 L145.40 114.65 L145.45 115.40 L145.50 116.15 L145.56 116.88 L145.61 117.60 L145.66 118.30 L145.73 119.08 L145.79 119.85 L145.85 120.59 L145.92 121.33 L145.98 122.05 L146.04 122.75 L146.12 123.52 L146.19 124.27 L146.27 125.01 L146.34 125.73 L146.42 126.44 L146.50 127.20 L146.59 127.94 L146.68 128.66 L146.77 129.37 L146.86 130.12 L146.96 130.86 L147.06 131.57 L147.17 132.27 L147.28 133.01 L147.39 133.73 L147.51 134.43 L147.63 135.17 L147.76 135.88 L147.89 136.57 L148.03 137.29 L148.17 137.99 L148.33 138.71 L148.49 139.41 L148.66 140.13 L148.83 140.83 L149.02 141.54 L149.21 142.22 L149.41 142.92 L149.62 143.59 L149.84 144.27 L150.08 144.95 L150.34 145.63 L150.60 146.28 L150.88 146.94 L151.17 147.58 L151.49 148.22 L151.83 148.85 L152.18 149.47 L152.56 150.07 L152.97 150.65 L153.39 151.21 L153.85 151.75 L154.33 152.27 L154.84 152.76 L155.37 153.21 L155.94 153.64 L156.55 154.03 L157.17 154.37 L157.80 154.68 L158.46 154.93 L159.13 155.15 L159.82 155.33 L160.50 155.47 L161.21 155.56 L161.91 155.63 L162.62 155.66 L163.34 155.65 L164.04 155.62 L164.74 155.57 L165.45 155.49 L166.16 155.38 L166.85 155.26 L167.56 155.12 L168.25 154.96 L168.93 154.78 L169.62 154.59 L170.30 154.39 L170.99 154.17 L171.66 153.94 L172.34 153.70 L173.01 153.45 L173.68 153.19 L174.34 152.92 L175.00 152.64 L175.65 152.36 L176.30 152.07 L176.96 151.76 L177.60 151.46 L178.24 151.15 L178.89 150.82 L179.52 150.51 L180.16 150.18 L180.80 149.84 L181.42 149.50 L182.04 149.16 L182.67 148.81 L183.31 148.45 L183.92 148.10 L184.54 147.74 L185.16 147.37 L185.78 147.00 L186.42 146.61 L187.02 146.24 L187.63 145.86 L188.24 145.47 L188.86 145.08 L189.49 144.68 L190.08 144.29 L190.68 143.90 L191.28 143.50 L191.89 143.09 L192.50 142.68 L193.08 142.28 L193.67 141.88 L194.26 141.47 L194.85 141.06 L195.44 140.64 L196.05 140.21 L196.65 139.78 L197.22 139.37 L197.79 138.95 L198.37 138.53 L198.95 138.11 L199.54 137.67 L200.13 137.24 L200.72 136.79 L201.32 136.34 L201.87 135.92 L202.44 135.49 L203.00 135.06 L203.57 134.62 L204.14 134.17 L204.72 133.73 L205.29 133.27 L205.88 132.81 L206.46 132.35 L207.05 131.88 L207.60 131.44 L208.15 131.00 L208.70 130.55 L209.26 130.10 L209.82 129.65 L210.38 129.19 L210.95 128.72 L211.52 128.25 L212.09 127.78 L212.66 127.30 L213.24 126.81 L213.82 126.33 L214.36 125.87 L214.90 125.42 L215.44 124.96 L215.98 124.49 L216.53 124.03 L217.07 123.56 L217.63 123.08 L218.18 122.60 L218.74 122.12 L219.30 121.63 L219.86 121.14 L220.42 120.64 L220.99 120.14 L221.56 119.64 L222.13 119.13 L222.66 118.66 L223.18 118.19 L223.71 117.72 L224.24 117.24 L224.77 116.76 L225.31 116.28 L225.84 115.79 L226.38 115.30 L226.92 114.81 L227.47 114.31 L228.01 113.81 L228.56 113.31 L229.11 112.80 L229.67 112.29 L230.22 111.77 L230.78 111.25 L231.34 110.73 L231.90 110.20 L232.47 109.67 L232.98 109.19 L233.49 108.71 L234.00 108.23 L234.52 107.74 L235.04 107.24 L235.56 106.75 L236.08 106.25 L236.60 105.75 L237.13 105.25 L237.65 104.74 L238.18 104.23 L238.72 103.71 L239.25 103.20 L239.78 102.68 L240.32 102.15 L240.86 101.63 L241.40 101.10 L241.94 100.57 L242.49 100.03 L243.04 99.49 L243.59 98.95 L244.14 98.41 L244.69 97.86 L245.24 97.31 L245.80 96.75 L246.30 96.26 L246.80 95.76 L247.30 95.26 L247.80 94.75 L248.30 94.25 L248.81 93.74 L249.31 93.23 L249.82 92.71 L250.33 92.19 L250.84 91.68 L251.35 91.15 L251.87 90.63 L252.38 90.10 L252.90 89.57 L253.42 89.04 L253.94 88.50 L254.46 87.96 L254.98 87.42 L255.51 86.88 L256.04 86.33 L256.57 85.78 L257.10 85.23 L257.63 84.68 L258.16 84.12 L258.70 83.56 L259.23 83.00 L259.77 82.43 L260.31 81.86 L260.85 81.29 L261.40 80.71 L261.94 80.14 L262.49 79.56 L262.97 79.05 L263.45 78.53 L263.93 78.02 L264.41 77.50 L264.90 76.98 L265.39 76.46 L265.87 75.94 L266.36 75.41 L266.85 74.88 L267.34 74.35 L267.83 73.82 L268.33 73.28 L268.82 72.75 L269.32 72.21 L269.82 71.66 L270.32 71.12 L270.82 70.57 L271.32 70.02 L271.82 69.47 L272.32 68.91 L272.83 68.36 L273.34 67.80 L273.84 67.24 L274.35 66.67 L274.86 66.11 L275.38 65.54 L275.89 64.96 L276.40 64.39 L276.92 63.81 L277.44 63.23 L277.95 62.65 L278.47 62.07 L279.00 61.48 L279.52 60.89 L280.04 60.30 L280.57 59.70 L281.09 59.10 L281.62 58.50 L282.15 57.90 L282.68 57.29 L283.21 56.68 L283.74 56.07 L284.28 55.46 L284.74 54.93 L285.20 54.40 L285.66 53.87 L286.12 53.33 L286.58 52.79 L287.05 52.25 L287.51 51.71 L287.98 51.17 L288.45 50.62 L288.91 50.08 L289.38 49.53 L289.85 48.97 L290.32 48.42 L290.80 47.86 L291.27 47.30 L291.74 46.74 L292.22 46.18 L292.69 45.61 L293.17 45.05 L293.65 44.48 L294.13 43.90 L294.61 43.33 L295.09 42.75 L295.57 42.17 L296.05 41.59 L296.54 41.00 L297.02 40.42 L297.51 39.83 L297.99 39.23 L298.48 38.64 L298.97 38.04 L299.46 37.44 L299.95 36.84 L300.44 36.24 L300.94 35.63 L301.43 35.02 L301.93 34.41 L302.42 33.79 L302.92 33.17 L303.42 32.55 L303.92 31.93 L304.42 31.31 L304.92 30.68 L305.42 30.04 L305.92 29.41 L306.43 28.77 L306.93 28.13 L307.44 27.49 L307.95 26.84 L308.46 26.20 L308.96 25.54 L309.48 24.89 L309.99 24.23 L310.50 23.57 L311.01 22.91 L311.44 22.35 L311.87 21.79 L312.04 21.57" stroke="#00ff40"/>
<path d="M143.10 21.59 L143.11 22.57 L143.12 23.54 L143.13 24.50 L143.14 25.45 L143.15 26.40 L143.16 27.33 L143.17 28.26 L143.18 29.18 L143.19 30.09 L143.21 30.99 L143.22 31.89 L143.23 32.78 L143.24 33.66 L143.25 34.53 L143.26 35.39 L143.27 36.25 L143.28 37.10 L143.29 37.94 L143.30 38.77 L143.31 39.60 L143.32 40.42 L143.34 41.24 L143.35 42.04 L143.36 42.84 L143.37 43.63 L143.38 44.42 L143.39 45.20 L143.40 45.97 L143.41 46.74 L143.43 47.50 L143.44 48.25 L143.45 49.00 L143.46 49.74 L143.47 50.48 L143.48 51.20 L143.50 51.93 L143.51 52.64 L143.52 53.35 L143.53 54.06 L143.55 54.99 L143.56 55.91 L143.58 56.82 L143.60 57.72 L143.61 58.61 L143.63 59.49 L143.65 60.36 L143.66 61.23 L143.68 62.08 L143.70 62.92 L143.72 63.76 L143.73 64.59 L143.75 65.40 L143.77 66.21 L143.79 67.01 L143.80 67.80 L143.82 68.59 L143.84 69.36 L143.86 70.13 L143.87 70.89 L143.89 71.64 L143.91 72.39 L143.93 73.12 L143.95 73.85 L143.97 74.57 L143.99 75.29 L144.00 75.99 L144.03 76.87 L144.05 77.73 L144.08 78.58 L144.10 79.42 L144.13 80.25 L144.15 81.07 L144.17 81.88 L144.20 82.68 L144.22 83.47 L144.25 84.25 L144.28 85.02 L144.30 85.79 L144.33 86.54 L144.35 87.28 L144.38 88.02 L144.41 88.74 L144.43 89.46 L144.46 90.17 L144.49 90.87 L144.52 91.69 L144.55 92.51 L144.58 93.32 L144.62 94.11 L144.65 94.90 L144.69 95.67 L144.72 96.43 L144.75 97.18 L144.79 97.92 L144.82 98.65 L144.86 99.37 L144.89 100.08 L144.93 100.79 L144.97 101.59 L145.02 102.38 L145.06 103.17 L145.10 103.93 L145.15 104.69 L145.19 105.44 L145.23 106.17 L145.28 106.89 L145.32 107.61 L145.37 108.31 L145.42 109.09 L145.48 109.87 L145.53 110.63 L145.58 111.38 L145.64 112.11 L145.69 112.84 L145.75 113.55 L145.81 114.25 L145.87 115.02 L145.93 115.78 L146.00 116.52 L146.07 117.25 L146.13 117.97 L146.20 118.68 L146.28 119.44 L146.35 120.19 L146.43 120.93 L146.51 121.65 L146.59 122.36 L146.68 123.12 L146.77 123.87 L146.86 124.60 L146.95 125.31 L147.04 126.01 L147.14 126.75 L147.25 127.48 L147.35 128.19 L147.46 128.89 L147.58 129.62 L147.70 130.34 L147.82 131.04 L147.95 131.77 L148.08 132.49 L148.22 133.18 L148.36 133.91 L148.51 134.61 L148.66 135.30 L148.83 136.01 L149.00 136.70 L149.18 137.41 L149.36 138.10 L149.56 138.80 L149.76 139.48 L149.97 140.18 L150.19 140.85 L150.43 141.53 L150.68 142.22 L150.94 142.88 L151.21 143.55 L151.50 144.21 L151.80 144.85 L152.12 145.49 L152.46 146.12 L152.82 146.74 L153.20 147.36 L153.59 147.94 L154.00 148.51 L154.44 149.06 L154.91 149.60 L155.40 150.12 L155.92 150.62 L156.46 151.08 L157.02 151.51 L157.60 151.91 L158.21 152.29 L158.84 152.62 L159.49 152.92 L160.15 153.18 L160.82 153.41 L161.51 153.60 L162.20 153.76 L162.90 153.88 L163.60 153.98 L164.31 154.04 L165.01 154.07 L165.73 154.08 L166.44 154.07 L167.16 154.03 L167.88 153.97 L168.58 153.89 L169.29 153.79 L169.99 153.68 L170.70 153.54 L171.39 153.40 L172.10 153.23 L172.79 153.06 L173.49 152.87 L174.17 152.67 L174.86 152.46 L175.53 152.24 L176.21 152.01 L176.90 151.77 L177.56 151.52 L178.24 151.27 L178.89 151.01 L179.55 150.74 L180.22 150.46 L180.87 150.18 L181.52 149.89 L182.18 149.59 L182.84 149.28 L183.48 148.98 L184.12 148.66 L184.78 148.34 L185.43 148.01 L186.06 147.68 L186.70 147.35 L187.34 147.01 L187.99 146.66 L188.61 146.32 L189.23 145.97 L189.86 145.62 L190.49 145.26 L191.13 144.89 L191.74 144.53 L192.35 144.17 L192.97 143.79 L193.59 143.42 L194.22 143.03 L194.85 142.64 L195.44 142.26 L196.05 141.88 L196.65 141.50 L197.26 141.10 L197.88 140.70 L198.50 140.29 L199.12 139.88 L199.71 139.49 L200.30 139.09 L200.89 138.69 L201.49 138.28 L202.09 137.86 L202.70 137.44 L203.31 137.01 L203.92 136.58 L204.49 136.17 L205.07 135.76 L205.65 135.34 L206.24 134.92 L206.83 134.49 L207.42 134.05 L208.01 133.61 L208.61 133.17 L209.21 132.72 L209.82 132.26 L210.38 131.84 L210.95 131.41 L211.52 130.97 L212.09 130.54 L212.66 130.09 L213.24 129.64 L213.82 129.19 L214.41 128.73 L214.99 128.27 L215.58 127.80 L216.18 127.33 L216.73 126.89 L217.27 126.45 L217.83 126.01 L218.38 125.56 L218.94 125.10 L219.50 124.65 L220.06 124.18 L220.63 123.72 L221.20 123.25 L221.77 122.77 L222.34 122.30 L222.92 121.81 L223.50 121.33 L224.08 120.84 L224.67 120.34 L225.20 119.89 L225.74 119.43 L226.28 118.97 L226.82 118.50 L227.36 118.03 L227.91 117.56 L228.45 117.09 L229.00 116.61 L229.56 116.13 L230.11 115.64 L230.67 115.15 L231.23 114.65 L231.79 114.16 L232.35 113.66 L232.92 113.15 L233.49 112.64 L234.06 112.13 L234.63 111.61 L235.21 111.09 L235.73 110.62 L236.25 110.15 L236.78 109.67 L237.30 109.19 L237.83 108.71 L238.36 108.22 L238.89 107.73 L239.43 107.24 L239.96 106.74 L240.50 106.24 L241.04 105.74 L241.58 105.24 L242.13 104.73 L242.67 104.22 L243.22 103.70 L243.77 103.18 L244.32 102.66 L244.87 102.14 L245.43 101.61 L245.99 101.08 L246.55 100.54 L247.11 100.00 L247.67 99.46 L248.24 98.92 L248.74 98.43 L249.25 97.94 L249.76 97.45 L250.26 96.95 L250.78 96.46 L251.29 95.96 L251.80 95.45 L252.32 94.95 L252.83 94.44 L253.35 93.93 L253.87 93.41 L254.40 92.90 L254.92 92.38 L255.44 91.86 L255.97 91.33 L256.50 90.80 L257.03 90.27 L257.56 89.74 L258.09 89.20 L258.63 88.66 L259.17 88.12 L259.70 87.58 L260.24 87.03 L260.79 86.48 L261.33 85.93 L261.87 85.37 L262.42 84.81 L262.97 84.25 L263.52 83.69 L264.07 83.12 L264.62 82.55 L265.18 81.97 L265.66 81.47 L266.15 80.96 L266.64 80.45 L267.13 79.94 L267.62 79.43 L268.12 78.91 L268.61 78.39 L269.11 77.87 L269.60 77.35 L270.10 76.82 L270.60 76.29 L271.10 75.76 L271.60 75.23 L272.11 74.69 L272.61 74.16 L273.12 73.61 L273.63 73.07 L274.14 72.53 L274.65 71.98 L275.16 71.43 L275.67 70.88 L276.18 70.32 L276.70 69.76 L277.21 69.20 L277.73 68.64 L278.25 68.07 L278.77 67.50 L279.29 66.93 L279.82 66.36 L280.34 65.78 L280.87 65.20 L281.39 64.62 L281.92 64.04 L282.45 63.45 L282.98 62.86 L283.52 62.27 L284.05 61.67 L284.58 61.07 L285.12 60.47 L285.66 59.87 L286.20 59.26 L286.74 58.65 L287.20 58.13 L287.67 57.60 L288.13 57.07 L288.60 56.54 L289.07 56.00 L289.54 55.47 L290.01 54.93 L290.48 54.39 L290.95 53.85 L291.43 53.30 L291.90 52.75 L292.38 52.21 L292.85 51.65 L293.33 51.10 L293.81 50.54 L294.29 49.98 L294.77 49.42 L295.25 48.86 L295.73 48.29 L296.21 47.73 L296.70 47.16 L297.18 46.58 L297.67 46.01 L298.16 45.43 L298.64 44.85 L299.13 44.26 L299.62 43.68 L300.12 43.09 L300.61 42.50 L301.10 41.91 L301.60 41.31 L302.09 40.71 L302.59 40.11 L303.08 39.51 L303.58 38.90 L304.08 38.29 L304.58 37.68 L305.09 37.06 L305.59 36.44 L306.09 35.82 L306.60 35.20 L307.10 34.57 L307.61 33.94 L308.12 33.31 L308.62 32.68 L309.13 32.04 L309.65 31.40 L310.16 30.75 L310.67 30.10 L311.18 29.45 L311.70 28.80 L312.22 28.14 L312.73 27.48 L313.16 26.93 L313.60 26.38 L314.03 25.82 L314.46 25.26" stroke="#00ffcf"/>
<path d="M143.13 21.80 L143.14 22.72 L143.15 23.63 L143.16 24.53 L143.17 25.42 L143.19 26.30 L143.20 27.18 L143.21 28.05 L143.22 28.91 L143.23 29.77 L143.24 30.62 L143.25 31.46 L143.26 32.29 L143.27 33.12 L143.29 33.94 L143.30 34.75 L143.31 35.56 L143.32 36.35 L143.33 37.15 L143.34 37.93 L143.35 38.71 L143.37 39.49 L143.38 40.25 L143.39 41.01 L143.40 41.77 L143.41 42.51 L143.43 43.25 L143.44 43.99 L143.45 44.72 L143.46 45.44 L143.47 46.16 L143.49 46.87 L143.50 47.58 L143.51 48.28 L143.53 49.21 L143.54 50.12 L143.56 51.03 L143.58 51.92 L143.60 52.81 L143.61 53.69 L143.63 54.56 L143.65 55.41 L143.66 56.26 L143.68 57.11 L143.70 57.94 L143.72 58.76 L143.74 59.58 L143.75 60.38 L143.77 61.18 L143.79 61.97 L143.81 62.76 L143.83 63.53 L143.84 64.30 L143.86 65.06 L143.88 65.81 L143.90 66.55 L143.92 67.29 L143.94 68.02 L143.96 68.74 L143.98 69.46 L144.00 70.16 L144.02 70.86 L144.04 71.73 L144.07 72.59 L144.09 73.43 L144.12 74.27 L144.14 75.09 L144.17 75.91 L144.19 76.71 L144.22 77.51 L144.24 78.30 L144.27 79.07 L144.30 79.84 L144.32 80.60 L144.35 81.35 L144.38 82.09 L144.40 82.82 L144.43 83.55 L144.46 84.26 L144.48 84.97 L144.52 85.81 L144.55 86.64 L144.59 87.45 L144.62 88.26 L144.65 89.05 L144.69 89.83 L144.72 90.60 L144.76 91.37 L144.79 92.12 L144.83 92.86 L144.87 93.59 L144.90 94.31 L144.94 95.03 L144.98 95.73 L145.02 96.54 L145.06 97.34 L145.11 98.12 L145.15 98.90 L145.20 99.66 L145.24 100.41 L145.29 101.15 L145.33 101.88 L145.38 102.60 L145.43 103.31 L145.48 104.10 L145.54 104.89 L145.59 105.66 L145.65 106.41 L145.70 107.16 L145.76 107.89 L145.82 108.62 L145.88 109.33 L145.93 110.03 L146.00 110.80 L146.07 111.56 L146.13 112.30 L146.20 113.04 L146.27 113.76 L146.34 114.47 L146.42 115.24 L146.50 116.00 L146.58 116.74 L146.66 117.47 L146.74 118.18 L146.83 118.89 L146.92 119.64 L147.01 120.38 L147.11 121.11 L147.20 121.82 L147.30 122.52 L147.41 123.27 L147.51 124.00 L147.62 124.71 L147.73 125.41 L147.86 126.15 L147.98 126.87 L148.10 127.57 L148.23 128.26 L148.37 128.99 L148.51 129.70 L148.65 130.39 L148.81 131.11 L148.96 131.81 L149.12 132.50 L149.30 133.21 L149.47 133.90 L149.66 134.61 L149.85 135.31 L150.05 135.98 L150.26 136.67 L150.47 137.35 L150.70 138.03 L150.93 138.70 L151.18 139.37 L151.44 140.03 L151.71 140.69 L152.00 141.36 L152.30 142.00 L152.61 142.65 L152.95 143.30 L153.29 143.92 L153.65 144.54 L154.04 145.15 L154.44 145.74 L154.85 146.32 L155.30 146.89 L155.75 147.43 L156.23 147.95 L156.74 148.47 L157.26 148.95 L157.81 149.41 L158.38 149.85 L158.95 150.25 L159.56 150.63 L160.18 150.98 L160.82 151.30 L161.47 151.59 L162.13 151.85 L162.81 152.08 L163.49 152.28 L164.18 152.44 L164.88 152.59 L165.57 152.70 L166.27 152.79 L166.99 152.85 L167.70 152.89 L168.42 152.91 L169.13 152.90 L169.86 152.88 L170.56 152.83 L171.28 152.77 L171.99 152.69 L172.70 152.60 L173.40 152.49 L174.11 152.37 L174.80 152.23 L175.50 152.08 L176.21 151.92 L176.90 151.75 L177.60 151.56 L178.27 151.37 L178.96 151.17 L179.65 150.96 L180.32 150.74 L181.00 150.51 L181.68 150.27 L182.34 150.03 L183.01 149.78 L183.68 149.52 L184.36 149.25 L185.02 148.98 L185.68 148.71 L186.35 148.42 L187.02 148.12 L187.67 147.83 L188.32 147.53 L188.97 147.23 L189.64 146.91 L190.27 146.60 L190.91 146.28 L191.55 145.96 L192.20 145.63 L192.85 145.29 L193.47 144.96 L194.10 144.63 L194.73 144.28 L195.36 143.93 L196.01 143.58 L196.65 143.21 L197.26 142.86 L197.88 142.51 L198.50 142.15 L199.12 141.78 L199.75 141.40 L200.38 141.02 L201.02 140.63 L201.62 140.26 L202.22 139.89 L202.83 139.51 L203.44 139.12 L204.05 138.73 L204.67 138.33 L205.29 137.92 L205.92 137.51 L206.51 137.13 L207.10 136.73 L207.69 136.33 L208.29 135.93 L208.89 135.52 L209.49 135.11 L210.10 134.69 L210.71 134.26 L211.33 133.83 L211.94 133.40 L212.52 132.99 L213.10 132.58 L213.68 132.16 L214.26 131.74 L214.85 131.31 L215.44 130.88 L216.03 130.44 L216.63 130.00 L217.22 129.56 L217.83 129.11 L218.43 128.65 L219.04 128.19 L219.60 127.76 L220.17 127.33 L220.73 126.90 L221.30 126.46 L221.87 126.02 L222.45 125.57 L223.02 125.12 L223.60 124.66 L224.19 124.20 L224.77 123.74 L225.36 123.27 L225.95 122.79 L226.55 122.31 L227.14 121.83 L227.69 121.39 L228.23 120.94 L228.78 120.50 L229.33 120.04 L229.89 119.59 L230.44 119.13 L231.00 118.66 L231.56 118.19 L232.13 117.72 L232.69 117.25 L233.26 116.77 L233.83 116.28 L234.40 115.80 L234.98 115.31 L235.56 114.81 L236.14 114.31 L236.72 113.81 L237.30 113.31 L237.89 112.80 L238.42 112.34 L238.95 111.87 L239.49 111.40 L240.02 110.93 L240.56 110.46 L241.10 109.98 L241.64 109.50 L242.19 109.01 L242.73 108.52 L243.28 108.03 L243.83 107.54 L244.38 107.04 L244.94 106.54 L245.49 106.04 L246.05 105.53 L246.61 105.02 L247.17 104.51 L247.73 103.99 L248.30 103.47 L248.87 102.94 L249.44 102.42 L250.01 101.88 L250.58 101.35 L251.10 100.87 L251.61 100.39 L252.12 99.91 L252.64 99.42 L253.16 98.93 L253.68 98.44 L254.20 97.95 L254.72 97.45 L255.25 96.95 L255.77 96.45 L256.30 95.94 L256.83 95.44 L257.36 94.93 L257.89 94.41 L258.43 93.89 L258.96 93.38 L259.50 92.85 L260.04 92.33 L260.58 91.80 L261.12 91.27 L261.67 90.73 L262.21 90.20 L262.76 89.66 L263.31 89.11 L263.86 88.57 L264.41 88.02 L264.97 87.47 L265.52 86.91 L266.08 86.35 L266.64 85.79 L267.20 85.23 L267.76 84.66 L268.26 84.16 L268.75 83.66 L269.25 83.16 L269.75 82.65 L270.24 82.14 L270.74 81.63 L271.25 81.12 L271.75 80.60 L272.25 80.09 L272.76 79.56 L273.26 79.04 L273.77 78.52 L274.28 77.99 L274.79 77.46 L275.30 76.92 L275.82 76.39 L276.33 75.85 L276.85 75.31 L277.36 74.76 L277.88 74.22 L278.40 73.67 L278.92 73.12 L279.44 72.56 L279.97 72.01 L280.49 71.45 L281.02 70.88 L281.55 70.32 L282.07 69.75 L282.60 69.18 L283.14 68.61 L283.67 68.03 L284.20 67.45 L284.74 66.87 L285.27 66.29 L285.81 65.70 L286.35 65.11 L286.89 64.52 L287.44 63.92 L287.98 63.32 L288.52 62.72 L289.07 62.11 L289.54 61.59 L290.01 61.07 L290.48 60.54 L290.95 60.02 L291.43 59.49 L291.90 58.95 L292.38 58.42 L292.85 57.88 L293.33 57.34 L293.81 56.80 L294.29 56.26 L294.77 55.71 L295.25 55.16 L295.73 54.61 L296.21 54.06 L296.70 53.50 L297.18 52.94 L297.67 52.38 L298.16 51.82 L298.64 51.25 L299.13 50.68 L299.62 50.11 L300.12 49.54 L300.61 48.96 L301.10 48.38 L301.60 47.80 L302.09 47.22 L302.59 46.63 L303.08 46.04 L303.58 45.45 L304.08 44.85 L304.58 44.26 L305.09 43.66 L305.59 43.05 L306.09 42.45 L306.60 41.84 L307.10 41.23 L307.61 40.61 L308.12 39.99 L308.62 39.37 L309.13 38.75 L309.65 38.12 L310.16 37.49 L310.67 36.86 L311.18 36.22 L311.70 35.58 L312.22 34.94 L312.73 34.29 L313.25 33.65 L313.77 32.99 L314.29 32.34 L314.46 32.12" stroke="#009fff"/>
<path d="M143.17 21.61 L143.18 22.47 L143.19 23.32 L143.20 24.17 L143.21 25.01 L143.22 25.84 L143.24 26.67 L143.25 27.49 L143.26 28.30 L143.27 29.10 L143.28 29.90 L143.29 30.69 L143.31 31.48 L143.32 32.26 L143.33 33.03 L143.34 33.80 L143.36 34.56 L143.37 35.32 L143.38 36.06 L143.39 36.81 L143.40 37.54 L143.42 38.27 L143.43 39.00 L143.44 39.72 L143.45 40.43 L143.47 41.14 L143.48 41.84 L143.50 42.77 L143.51 43.69 L143.53 44.60 L143.55 45.50 L143.57 46.39 L143.58 47.27 L143.60 48.14 L143.62 49.00 L143.64 49.86 L143.65 50.70 L143.67 51.54 L143.69 52.37 L143.71 53.19 L143.73 54.00 L143.75 54.80 L143.76 55.60 L143.78 56.39 L143.80 57.17 L143.82 57.94 L143.84 58.70 L143.86 59.46 L143.88 60.21 L143.90 60.95 L143.92 61.69 L143.94 62.42 L143.96 63.14 L143.98 63.85 L144.00 64.56 L144.02 65.26 L144.04 66.13 L144.07 66.98 L144.09 67.83 L144.12 68.67 L144.14 69.49 L144.17 70.31 L144.20 71.12 L144.22 71.92 L144.25 72.70 L144.28 73.48 L144.30 74.25 L144.33 75.02 L144.36 75.77 L144.38 76.52 L144.41 77.25 L144.44 77.98 L144.47 78.70 L144.50 79.41 L144.52 80.12 L144.56 80.95 L144.59 81.77 L144.63 82.59 L144.66 83.39 L144.70 84.18 L144.74 84.96 L144.77 85.73 L144.81 86.50 L144.84 87.25 L144.88 87.99 L144.92 88.72 L144.96 89.45 L144.99 90.16 L145.03 90.87 L145.08 91.68 L145.12 92.48 L145.17 93.27 L145.21 94.05 L145.26 94.81 L145.30 95.57 L145.35 96.31 L145.40 97.05 L145.45 97.77 L145.50 98.49 L145.54 99.19 L145.60 99.98 L145.66 100.76 L145.71 101.53 L145.77 102.29 L145.83 103.03 L145.89 103.77 L145.95 104.49 L146.01 105.20 L146.07 105.90 L146.14 106.68 L146.21 107.44 L146.28 108.19 L146.35 108.92 L146.42 109.65 L146.49 110.36 L146.56 111.06 L146.65 111.83 L146.73 112.58 L146.81 113.32 L146.90 114.05 L146.98 114.76 L147.07 115.46 L147.16 116.22 L147.26 116.96 L147.36 117.69 L147.46 118.40 L147.56 119.10 L147.67 119.85 L147.78 120.58 L147.90 121.30 L148.01 122.01 L148.13 122.70 L148.26 123.43 L148.39 124.15 L148.52 124.85 L148.66 125.59 L148.81 126.31 L148.95 127.02 L149.10 127.71 L149.27 128.43 L149.43 129.14 L149.60 129.83 L149.78 130.54 L149.96 131.24 L150.15 131.92 L150.35 132.63 L150.55 133.31 L150.77 134.02 L151.00 134.71 L151.22 135.38 L151.46 136.06 L151.71 136.73 L151.98 137.40 L152.25 138.06 L152.53 138.73 L152.83 139.38 L153.14 140.03 L153.46 140.67 L153.79 141.31 L154.14 141.92 L154.51 142.54 L154.88 143.13 L155.28 143.73 L155.70 144.32 L156.13 144.88 L156.58 145.45 L157.05 145.98 L157.54 146.51 L158.04 147.01 L158.58 147.50 L159.12 147.96 L159.67 148.40 L160.26 148.83 L160.86 149.22 L161.47 149.59 L162.09 149.93 L162.73 150.25 L163.38 150.54 L164.04 150.81 L164.72 151.05 L165.41 151.27 L166.08 151.45 L166.78 151.61 L167.48 151.75 L168.17 151.87 L168.88 151.96 L169.60 152.03 L170.30 152.08 L171.02 152.12 L171.72 152.13 L172.43 152.12 L173.15 152.10 L173.85 152.06 L174.57 152.01 L175.29 151.94 L176.00 151.85 L176.72 151.75 L177.41 151.65 L178.12 151.52 L178.83 151.39 L179.52 151.24 L180.22 151.09 L180.93 150.92 L181.62 150.75 L182.31 150.56 L183.01 150.36 L183.68 150.17 L184.36 149.96 L185.05 149.74 L185.75 149.51 L186.42 149.28 L187.09 149.04 L187.77 148.79 L188.46 148.53 L189.12 148.28 L189.78 148.01 L190.46 147.74 L191.13 147.46 L191.78 147.18 L192.43 146.90 L193.08 146.61 L193.75 146.31 L194.41 146.00 L195.09 145.69 L195.72 145.38 L196.37 145.07 L197.02 144.75 L197.67 144.42 L198.33 144.08 L198.95 143.76 L199.58 143.43 L200.21 143.10 L200.85 142.76 L201.49 142.41 L202.13 142.05 L202.78 141.69 L203.39 141.35 L204.01 141.00 L204.63 140.64 L205.25 140.28 L205.88 139.91 L206.51 139.53 L207.14 139.15 L207.78 138.76 L208.38 138.40 L208.98 138.02 L209.59 137.65 L210.19 137.27 L210.81 136.88 L211.42 136.48 L212.04 136.09 L212.66 135.68 L213.29 135.27 L213.92 134.86 L214.50 134.47 L215.09 134.07 L215.68 133.68 L216.28 133.27 L216.87 132.86 L217.48 132.45 L218.08 132.03 L218.69 131.61 L219.30 131.18 L219.91 130.75 L220.53 130.31 L221.15 129.87 L221.72 129.46 L222.29 129.04 L222.87 128.62 L223.45 128.20 L224.03 127.77 L224.61 127.34 L225.20 126.90 L225.79 126.46 L226.38 126.02 L226.98 125.57 L227.58 125.11 L228.18 124.65 L228.78 124.19 L229.39 123.72 L229.94 123.29 L230.50 122.86 L231.06 122.43 L231.62 121.99 L232.18 121.54 L232.75 121.09 L233.32 120.64 L233.89 120.19 L234.46 119.73 L235.04 119.26 L235.61 118.80 L236.19 118.33 L236.78 117.85 L237.36 117.37 L237.95 116.89 L238.54 116.41 L239.13 115.92 L239.72 115.42 L240.32 114.92 L240.86 114.47 L241.40 114.02 L241.94 113.56 L242.49 113.10 L243.04 112.63 L243.59 112.16 L244.14 111.69 L244.69 111.22 L245.24 110.74 L245.80 110.26 L246.36 109.77 L246.92 109.29 L247.48 108.79 L248.05 108.30 L248.62 107.80 L249.18 107.30 L249.76 106.79 L250.33 106.29 L250.90 105.77 L251.48 105.26 L252.06 104.74 L252.64 104.22 L253.22 103.69 L253.74 103.22 L254.26 102.75 L254.79 102.27 L255.31 101.79 L255.84 101.31 L256.37 100.83 L256.90 100.34 L257.43 99.85 L257.96 99.36 L258.50 98.86 L259.03 98.36 L259.57 97.86 L260.11 97.36 L260.65 96.85 L261.19 96.34 L261.74 95.82 L262.28 95.31 L262.83 94.79 L263.38 94.27 L263.93 93.74 L264.48 93.21 L265.04 92.68 L265.59 92.15 L266.15 91.61 L266.71 91.07 L267.27 90.52 L267.83 89.98 L268.40 89.43 L268.97 88.87 L269.53 88.32 L270.10 87.76 L270.60 87.27 L271.10 86.77 L271.60 86.27 L272.11 85.77 L272.61 85.27 L273.12 84.77 L273.63 84.26 L274.14 83.75 L274.65 83.24 L275.16 82.72 L275.67 82.21 L276.18 81.69 L276.70 81.16 L277.21 80.64 L277.73 80.11 L278.25 79.58 L278.77 79.05 L279.29 78.51 L279.82 77.97 L280.34 77.43 L280.87 76.89 L281.39 76.34 L281.92 75.79 L282.45 75.24 L282.98 74.69 L283.52 74.13 L284.05 73.57 L284.58 73.00 L285.12 72.44 L285.66 71.87 L286.20 71.30 L286.74 70.72 L287.28 70.14 L287.82 69.56 L288.37 68.98 L288.91 68.39 L289.46 67.80 L290.01 67.21 L290.56 66.61 L291.11 66.01 L291.58 65.50 L292.06 64.98 L292.53 64.46 L293.01 63.94 L293.49 63.41 L293.97 62.88 L294.45 62.35 L294.93 61.82 L295.41 61.29 L295.89 60.75 L296.37 60.21 L296.86 59.67 L297.34 59.12 L297.83 58.58 L298.32 58.03 L298.81 57.47 L299.30 56.92 L299.79 56.36 L300.28 55.80 L300.77 55.24 L301.27 54.67 L301.76 54.11 L302.26 53.54 L302.75 52.96 L303.25 52.39 L303.75 51.81 L304.25 51.23 L304.75 50.64 L305.25 50.06 L305.76 49.47 L306.26 48.87 L306.76 48.28 L307.27 47.68 L307.78 47.08 L308.29 46.47 L308.79 45.87 L309.30 45.25 L309.82 44.64 L310.33 44.02 L310.84 43.40 L311.36 42.78 L311.87 42.16 L312.39 41.53 L312.91 40.89 L313.42 40.26 L313.94 39.62 L314.46 38.98" stroke="#0010ff"/>
<path d="M143.22 21.61 L143.23 22.42 L143.24 23.22 L143.26 24.01 L143.27 24.80 L143.28 25.58 L143.29 26.36 L143.30 27.13 L143.32 27.89 L143.33 28.65 L143.34 29.40 L143.35 30.15 L143.37 30.89 L143.38 31.62 L143.39 32.35 L143.41 33.07 L143.42 33.79 L143.43 34.50 L143.44 35.21 L143.46 35.91 L143.47 36.84 L143.49 37.75 L143.51 38.66 L143.53 39.56 L143.55 40.45 L143.56 41.33 L143.58 42.20 L143.60 43.06 L143.62 43.91 L143.64 44.76 L143.65 45.60 L143.67 46.43 L143.69 47.25 L143.71 48.06 L143.73 48.87 L143.75 49.66 L143.77 50.45 L143.79 51.23 L143.81 52.01 L143.83 52.78 L143.85 53.54 L143.87 54.29 L143.89 55.03 L143.91 55.77 L143.93 56.50 L143.95 57.23 L143.97 57.94 L143.99 58.66 L144.01 59.36 L144.03 60.23 L144.06 61.09 L144.08 61.94 L144.11 62.79 L144.14 63.62 L144.16 64.44 L144.19 65.25 L144.22 66.06 L144.25 66.85 L144.27 67.64 L144.30 68.42 L144.33 69.19 L144.36 69.95 L144.38 70.70 L144.41 71.44 L144.44 72.18 L144.47 72.91 L144.50 73.63 L144.53 74.34 L144.56 75.05 L144.59 75.88 L144.63 76.71 L144.66 77.52 L144.70 78.33 L144.74 79.12 L144.77 79.90 L144.81 80.68 L144.85 81.44 L144.88 82.20 L144.92 82.95 L144.96 83.68 L145.00 84.41 L145.04 85.13 L145.08 85.84 L145.12 86.54 L145.16 87.35 L145.21 88.15 L145.26 88.94 L145.30 89.71 L145.35 90.48 L145.40 91.23 L145.45 91.98 L145.50 92.71 L145.55 93.44 L145.60 94.15 L145.65 94.86 L145.70 95.66 L145.76 96.44 L145.82 97.21 L145.88 97.97 L145.94 98.72 L146.00 99.46 L146.06 100.19 L146.12 100.90 L146.19 101.61 L146.26 102.39 L146.33 103.16 L146.40 103.92 L146.47 104.67 L146.55 105.40 L146.62 106.13 L146.70 106.84 L146.77 107.54 L146.86 108.31 L146.94 109.06 L147.03 109.80 L147.12 110.53 L147.21 111.25 L147.30 111.95 L147.40 112.71 L147.50 113.46 L147.60 114.19 L147.70 114.92 L147.81 115.62 L147.91 116.32 L148.03 117.07 L148.14 117.80 L148.26 118.52 L148.38 119.22 L148.51 119.91 L148.64 120.65 L148.78 121.37 L148.91 122.07 L149.05 122.76 L149.20 123.49 L149.36 124.21 L149.51 124.91 L149.67 125.59 L149.84 126.31 L150.02 127.02 L150.19 127.70 L150.38 128.42 L150.57 129.12 L150.77 129.80 L150.98 130.51 L151.20 131.21 L151.41 131.88 L151.65 132.58 L151.89 133.26 L152.13 133.92 L152.39 134.60 L152.65 135.26 L152.93 135.94 L153.22 136.60 L153.51 137.24 L153.82 137.89 L154.13 138.53 L154.47 139.17 L154.81 139.79 L155.18 140.42 L155.55 141.03 L155.94 141.65 L156.34 142.24 L156.75 142.81 L157.18 143.38 L157.63 143.93 L158.10 144.48 L158.57 145.01 L159.06 145.51 L159.57 146.01 L160.10 146.49 L160.63 146.94 L161.20 147.39 L161.78 147.82 L162.36 148.22 L162.96 148.60 L163.57 148.95 L164.20 149.28 L164.83 149.60 L165.47 149.89 L166.13 150.15 L166.80 150.40 L167.48 150.63 L168.17 150.83 L168.85 151.01 L169.54 151.17 L170.25 151.31 L170.96 151.43 L171.66 151.52 L172.37 151.60 L173.09 151.66 L173.80 151.71 L174.51 151.73 L175.24 151.74 L175.94 151.74 L176.66 151.72 L177.38 151.68 L178.09 151.63 L178.80 151.57 L179.52 151.49 L180.22 151.40 L180.93 151.30 L181.65 151.19 L182.34 151.07 L183.04 150.94 L183.75 150.80 L184.47 150.64 L185.16 150.48 L185.85 150.31 L186.56 150.13 L187.23 149.95 L187.92 149.76 L188.61 149.55 L189.30 149.34 L190.01 149.12 L190.68 148.90 L191.36 148.67 L192.04 148.43 L192.74 148.18 L193.39 147.94 L194.06 147.68 L194.73 147.42 L195.40 147.16 L196.09 146.88 L196.73 146.61 L197.38 146.33 L198.04 146.05 L198.70 145.76 L199.37 145.46 L200.04 145.15 L200.68 144.86 L201.32 144.56 L201.96 144.25 L202.61 143.93 L203.26 143.61 L203.92 143.28 L204.58 142.94 L205.21 142.62 L205.83 142.29 L206.46 141.96 L207.10 141.62 L207.74 141.28 L208.38 140.92 L209.03 140.56 L209.68 140.20 L210.33 139.83 L210.95 139.48 L211.56 139.12 L212.18 138.76 L212.81 138.39 L213.43 138.02 L214.07 137.64 L214.70 137.25 L215.34 136.86 L215.98 136.47 L216.58 136.10 L217.17 135.72 L217.78 135.34 L218.38 134.95 L218.99 134.56 L219.60 134.17 L220.22 133.77 L220.84 133.36 L221.46 132.95 L222.08 132.53 L222.71 132.11 L223.34 131.69 L223.92 131.29 L224.51 130.89 L225.09 130.49 L225.68 130.08 L226.28 129.66 L226.87 129.25 L227.47 128.82 L228.07 128.40 L228.67 127.97 L229.28 127.53 L229.89 127.09 L230.50 126.64 L231.12 126.20 L231.73 125.74 L232.30 125.32 L232.86 124.90 L233.43 124.48 L234.00 124.05 L234.58 123.62 L235.15 123.18 L235.73 122.74 L236.31 122.30 L236.89 121.85 L237.48 121.40 L238.07 120.95 L238.66 120.49 L239.25 120.02 L239.84 119.56 L240.44 119.08 L241.04 118.61 L241.64 118.13 L242.25 117.65 L242.79 117.21 L243.34 116.76 L243.89 116.32 L244.44 115.87 L245.00 115.42 L245.55 114.96 L246.11 114.50 L246.67 114.04 L247.23 113.58 L247.80 113.11 L248.36 112.64 L248.93 112.16 L249.50 111.68 L250.07 111.20 L250.65 110.71 L251.22 110.22 L251.80 109.73 L252.38 109.23 L252.96 108.73 L253.55 108.23 L254.13 107.72 L254.72 107.21 L255.31 106.70 L255.91 106.18 L256.43 105.71 L256.96 105.25 L257.49 104.78 L258.03 104.31 L258.56 103.83 L259.10 103.35 L259.64 102.87 L260.18 102.39 L260.72 101.90 L261.26 101.41 L261.81 100.92 L262.35 100.42 L262.90 99.92 L263.45 99.42 L264.00 98.92 L264.55 98.41 L265.11 97.90 L265.66 97.38 L266.22 96.87 L266.78 96.35 L267.34 95.82 L267.91 95.30 L268.47 94.77 L269.04 94.23 L269.60 93.70 L270.17 93.16 L270.74 92.62 L271.32 92.07 L271.89 91.52 L272.47 90.97 L272.97 90.48 L273.48 89.99 L273.99 89.50 L274.50 89.01 L275.01 88.51 L275.52 88.02 L276.04 87.51 L276.55 87.01 L277.07 86.50 L277.58 85.99 L278.10 85.48 L278.62 84.97 L279.14 84.45 L279.67 83.93 L280.19 83.41 L280.72 82.88 L281.24 82.35 L281.77 81.82 L282.30 81.29 L282.83 80.75 L283.36 80.21 L283.90 79.67 L284.43 79.13 L284.97 78.58 L285.50 78.03 L286.04 77.47 L286.58 76.92 L287.13 76.36 L287.67 75.80 L288.21 75.23 L288.76 74.66 L289.30 74.09 L289.85 73.52 L290.40 72.94 L290.95 72.36 L291.50 71.77 L292.06 71.19 L292.61 70.60 L293.17 70.00 L293.73 69.40 L294.21 68.89 L294.69 68.37 L295.17 67.86 L295.65 67.33 L296.13 66.81 L296.62 66.28 L297.10 65.76 L297.59 65.22 L298.07 64.69 L298.56 64.15 L299.05 63.62 L299.54 63.07 L300.03 62.53 L300.53 61.98 L301.02 61.43 L301.51 60.88 L302.01 60.33 L302.50 59.77 L303.00 59.21 L303.50 58.65 L304.00 58.08 L304.50 57.51 L305.00 56.94 L305.50 56.37 L306.01 55.79 L306.51 55.21 L307.02 54.63 L307.52 54.04 L308.03 53.45 L308.54 52.86 L309.05 52.27 L309.56 51.67 L310.07 51.07 L310.58 50.47 L311.10 49.86 L311.61 49.25 L312.13 48.64 L312.65 48.02 L313.16 47.40 L313.68 46.78 L314.20 46.15 L314.46 45.84" stroke="#8000ff"/>
</g>
<rect x="32.5" y="24.5" width="279.0" height="251.5" fill="none" stroke="#484848" stroke-width="0.5"/>
<g stroke="#484848" stroke-width="0.5" fill="none"><line x1="32.50" x2="32.50" y1="276.00" y2="272.40"/><line x1="32.50" x2="32.50" y1="24.50" y2="28.10"/><line x1="45.18" x2="45.18" y1="276.00" y2="273.80"/><line x1="45.18" x2="45.18" y1="24.50" y2="26.70"/><line x1="57.87" x2="57.87" y1="276.00" y2="273.80"/><line x1="57.87" x2="57.87" y1="24.50" y2="26.70"/><line x1="70.56" x2="70.56" y1="276.00" y2="273.80"/><line x1="70.56" x2="70.56" y1="24.50" y2="26.70"/><line x1="83.24" x2="83.24" y1="276.00" y2="272.40"/><line x1="83.24" x2="83.24" y1="24.50" y2="28.10"/><line x1="95.92" x2="95.92" y1="276.00" y2="273.80"/><line x1="95.92" x2="95.92" y1="24.50" y2="26.70"/><line x1="108.61" x2="108.61" y1="276.00" y2="273.80"/><line x1="108.61" x2="108.61" y1="24.50" y2="26.70"/><line x1="121.30" x2="121.30" y1="276.00" y2="273.80"/><line x1="121.30" x2="121.30" y1="24.50" y2="26.70"/><line x1="133.98" x2="133.98" y1="276.00" y2="272.40"/><line x1="133.98" x2="133.98" y1="24.50" y2="28.10"/><line x1="146.66" x2="146.66" y1="276.00" y2="273.80"/><line x1="146.66" x2="146.66" y1="24.50" y2="26.70"/><line x1="159.35" x2="159.35" y1="276.00" y2="273.80"/><line x1="159.35" x2="159.35" y1="24.50" y2="26.70"/><line x1="172.03" x2="172.03" y1="276.00" y2="273.80"/><line x1="172.03" x2="172.03" y1="24.50" y2="26.70"/><line x1="184.72" x2="184.72" y1="276.00" y2="272.40"/><line x1="184.72" x2="184.72" y1="24.50" y2="28.10"/><line x1="197.41" x2="197.41" y1="276.00" y2="273.80"/><line x1="197.41" x2="197.41" y1="24.50" y2="26.70"/><line x1="210.09" x2="210.09" y1="276.00" y2="273.80"/><line x1="210.09" x2="210.09" y1="24.50" y2="26.70"/><line x1="222.77" x2="222.77" y1="276.00" y2="273.80"/><line x1="222.77" x2="222.77" y1="24.50" y2="26.70"/><line x1="235.46" x2="235.46" y1="276.00" y2="272.40"/><line x1="235.46" x2="235.46" y1="24.50" y2="28.10"/><line x1="248.15" x2="248.15" y1="276.00" y2="273.80"/><line x1="248.15" x2="248.15" y1="24.50" y2="26.70"/><line x1="260.83" x2="260.83" y1="276.00" y2="273.80"/><line x1="260.83" x2="260.83" y1="24.50" y2="26.70"/><line x1="273.52" x2="273.52" y1="276.00" y2="273.80"/><line x1="273.52" x2="273.52" y1="24.50" y2="26.70"/><line x1="286.20" x2="286.20" y1="276.00" y2="272.40"/><line x1="286.20" x2="286.20" y1="24.50" y2="28.10"/><line x1="298.88" x2="298.88" y1="276.00" y2="273.80"/><line x1="298.88" x2="298.88" y1="24.50" y2="26.70"/><line x1="311.50" x2="311.50" y1="276.00" y2="273.80"/><line x1="311.50" x2="311.50" y1="24.50" y2="26.70"/><line x1="32.50" x2="36.10" y1="276.00" y2="276.00"/><line x1="311.50" x2="307.90" y1="276.00" y2="276.00"/><line x1="32.50" x2="34.70" y1="267.76" y2="267.76"/><line x1="311.50" x2="309.30" y1="267.76" y2="267.76"/><line x1="32.50" x2="34.70" y1="259.37" y2="259.37"/><line x1="311.50" x2="309.30" y1="259.37" y2="259.37"/><line x1="32.50" x2="34.70" y1="250.98" y2="250.98"/><line x1="311.50" x2="309.30" y1="250.98" y2="250.98"/><line x1="32.50" x2="34.70" y1="242.59" y2="242.59"/><line x1="311.50" x2="309.30" y1="242.59" y2="242.59"/><line x1="32.50" x2="36.10" y1="234.20" y2="234.20"/><line x1="311.50" x2="307.90" y1="234.20" y2="234.20"/><line x1="32.50" x2="34.70" y1="225.81" y2="225.81"/><line x1="311.50" x2="309.30" y1="225.81" y2="225.81"/><line x1="32.50" x2="34.70" y1="217.42" y2="217.42"/><line x1="311.50" x2="309.30" y1="217.42" y2="217.42"/><line x1="32.50" x2="34.70" y1="209.03" y2="209.03"/><line x1="311.50" x2="309.30" y1="209.03" y2="209.03"/><line x1="32.50" x2="34.70" y1="200.64" y2="200.64"/><line x1="311.50" x2="309.30" y1="200.64" y2="200.64"/><line x1="32.50" x2="36.10" y1="192.25" y2="192.25"/><line x1="311.50" x2="307.90" y1="192.25" y2="192.25"/><line x1="32.50" x2="34.70" y1="183.86" y2="183.86"/><line x1="311.50" x2="309.30" y1="183.86" y2="183.86"/><line x1="32.50" x2="34.70" y1="175.47" y2="175.47"/><line x1="311.50" x2="309.30" y1="175.47" y2="175.47"/><line x1="32.50" x2="34.70" y1="167.08" y2="167.08"/><line x1="311.50" x2="309.30" y1="167.08" y2="167.08"/><line x1="32.50" x2="34.70" y1="158.69" y2="158.69"/><line x1="311.50" x2="309.30" y1="158.69" y2="158.69"/><line x1="32.50" x2="36.10" y1="150.30" y2="150.30"/><line x1="311.50" x2="307.90" y1="150.30" y2="150.30"/><line x1="32.50" x2="34.70" y1="141.91" y2="141.91"/><line x1="311.50" x2="309.30" y1="141.91" y2="141.91"/><line x1="32.50" x2="34.70" y1="133.52" y2="133.52"/><line x1="311.50" x2="309.30" y1="133.52" y2="133.52"/><line x1="32.50" x2="34.70" y1="125.13" y2="125.13"/><line x1="311.50" x2="309.30" y1="125.13" y2="125.13"/><line x1="32.50" x2="34.70" y1="116.74" y2="116.74"/><line x1="311.50" x2="309.30" y1="116.74" y2="116.74"/><line x1="32.50" x2="36.10" y1="108.35" y2="108.35"/><line x1="311.50" x2="307.90" y1="108.35" y2="108.35"/><line x1="32.50" x2="34.70" y1="99.96" y2="99.96"/><line x1="311.50" x2="309.30" y1="99.96" y2="99.96"/><line x1="32.50" x2="34.70" y1="91.57" y2="91.57"/><line x1="311.50" x2="309.30" y1="91.57" y2="91.57"/><line x1="32.50" x2="34.70" y1="83.18" y2="83.18"/><line x1="311.50" x2="309.30" y1="83.18" y2="83.18"/><line x1="32.50" x2="34.70" y1="74.79" y2="74.79"/><line x1="311.50" x2="309.30" y1="74.79" y2="74.79"/><line x1="32.50" x2="36.10" y1="66.40" y2="66.40"/><line x1="311.50" x2="307.90" y1="66.40" y2="66.40"/><line x1="32.50" x2="34.70" y1="58.01" y2="58.01"/><line x1="311.50" x2="309.30" y1="58.01" y2="58.01"/><line x1="32.50" x2="34.70" y1="49.62" y2="49.62"/><line x1="311.50" x2="309.30" y1="49.62" y2="49.62"/><line x1="32.50" x2="34.70" y1="41.23" y2="41.23"/><line x1="311.50" x2="309.30" y1="41.23" y2="41.23"/><line x1="32.50" x2="34.70" y1="32.84" y2="32.84"/><line x1="311.50" x2="309.30" y1="32.84" y2="32.84"/><line x1="32.50" x2="36.10" y1="24.50" y2="24.50"/><line x1="311.50" x2="307.90" y1="24.50" y2="24.50"/></g>
<g font-size="10.6" font-weight="bold" fill="#000"><text x="32.50" y="289.3" text-anchor="middle">0.2</text><text x="83.24" y="289.3" text-anchor="middle">0.4</text><text x="133.98" y="289.3" text-anchor="middle">0.6</text><text x="184.72" y="289.3" text-anchor="middle">0.8</text><text x="235.46" y="289.3" text-anchor="middle">1.0</text><text x="286.20" y="289.3" text-anchor="middle">1.2</text><text x="29.2" y="280.45" text-anchor="end">−2</text><text x="29.2" y="238.50" text-anchor="end">−1</text><text x="29.2" y="196.55" text-anchor="end">0</text><text x="29.2" y="154.60" text-anchor="end">1</text><text x="29.2" y="112.65" text-anchor="end">2</text><text x="29.2" y="70.70" text-anchor="end">3</text><text x="29.2" y="28.75" text-anchor="end">4</text></g>
<text x="171.5" y="15" text-anchor="middle" font-size="12.54" font-weight="bold" fill="#000" id="title">q=0.5, <tspan font-style="italic">β</tspan>=−0.9, b=0.25, <tspan font-style="italic">ε</tspan>=1, <tspan font-style="italic">λ</tspan><tspan font-size="8.5" dy="2">2</tspan><tspan dy="-2">=0.1, Λ=−1</tspan></text>
<text x="0.5" y="154.7" font-size="10.8" font-weight="bold" font-style="italic" fill="#000">S<tspan font-size="7.8" dy="1.6">c</tspan></text>
<text x="167.6" y="307.7" font-size="11.2" font-weight="bold" font-style="italic" fill="#000">r<tspan font-size="8.5" dy="2.2" dx="-0.3" font-style="normal">+</tspan></text>
<text x="261.2" y="238.8" text-anchor="middle" font-size="12.8" font-weight="bold" fill="#000">(d)</text>
<rect x="326.0" y="32.0" width="11.300000000000011" height="253.0" fill="url(#cb)"/>
<g font-size="10.6" fill="#4d4d4d"><line x1="337.30" x2="340.30" y1="285.00" y2="285.00" stroke="#999" stroke-width="0.5"/><text x="342.7" y="289.30">0</text><line x1="337.30" x2="340.30" y1="221.75" y2="221.75" stroke="#999" stroke-width="0.5"/><text x="342.7" y="226.05">0.1</text><line x1="337.30" x2="340.30" y1="158.50" y2="158.50" stroke="#999" stroke-width="0.5"/><text x="342.7" y="162.80">0.2</text><line x1="337.30" x2="340.30" y1="95.25" y2="95.25" stroke="#999" stroke-width="0.5"/><text x="342.7" y="99.55">0.3</text><line x1="337.30" x2="340.30" y1="32.00" y2="32.00" stroke="#999" stroke-width="0.5"/><text x="342.7" y="36.30">0.4</text></g>
<text x="335.8" y="19.8" font-size="11" font-weight="bold" font-style="italic" fill="#000">λ<tspan font-size="7.8" dy="1.0" dx="-0.3" font-style="normal">1</tspan></text>
</svg>
</body></html>
